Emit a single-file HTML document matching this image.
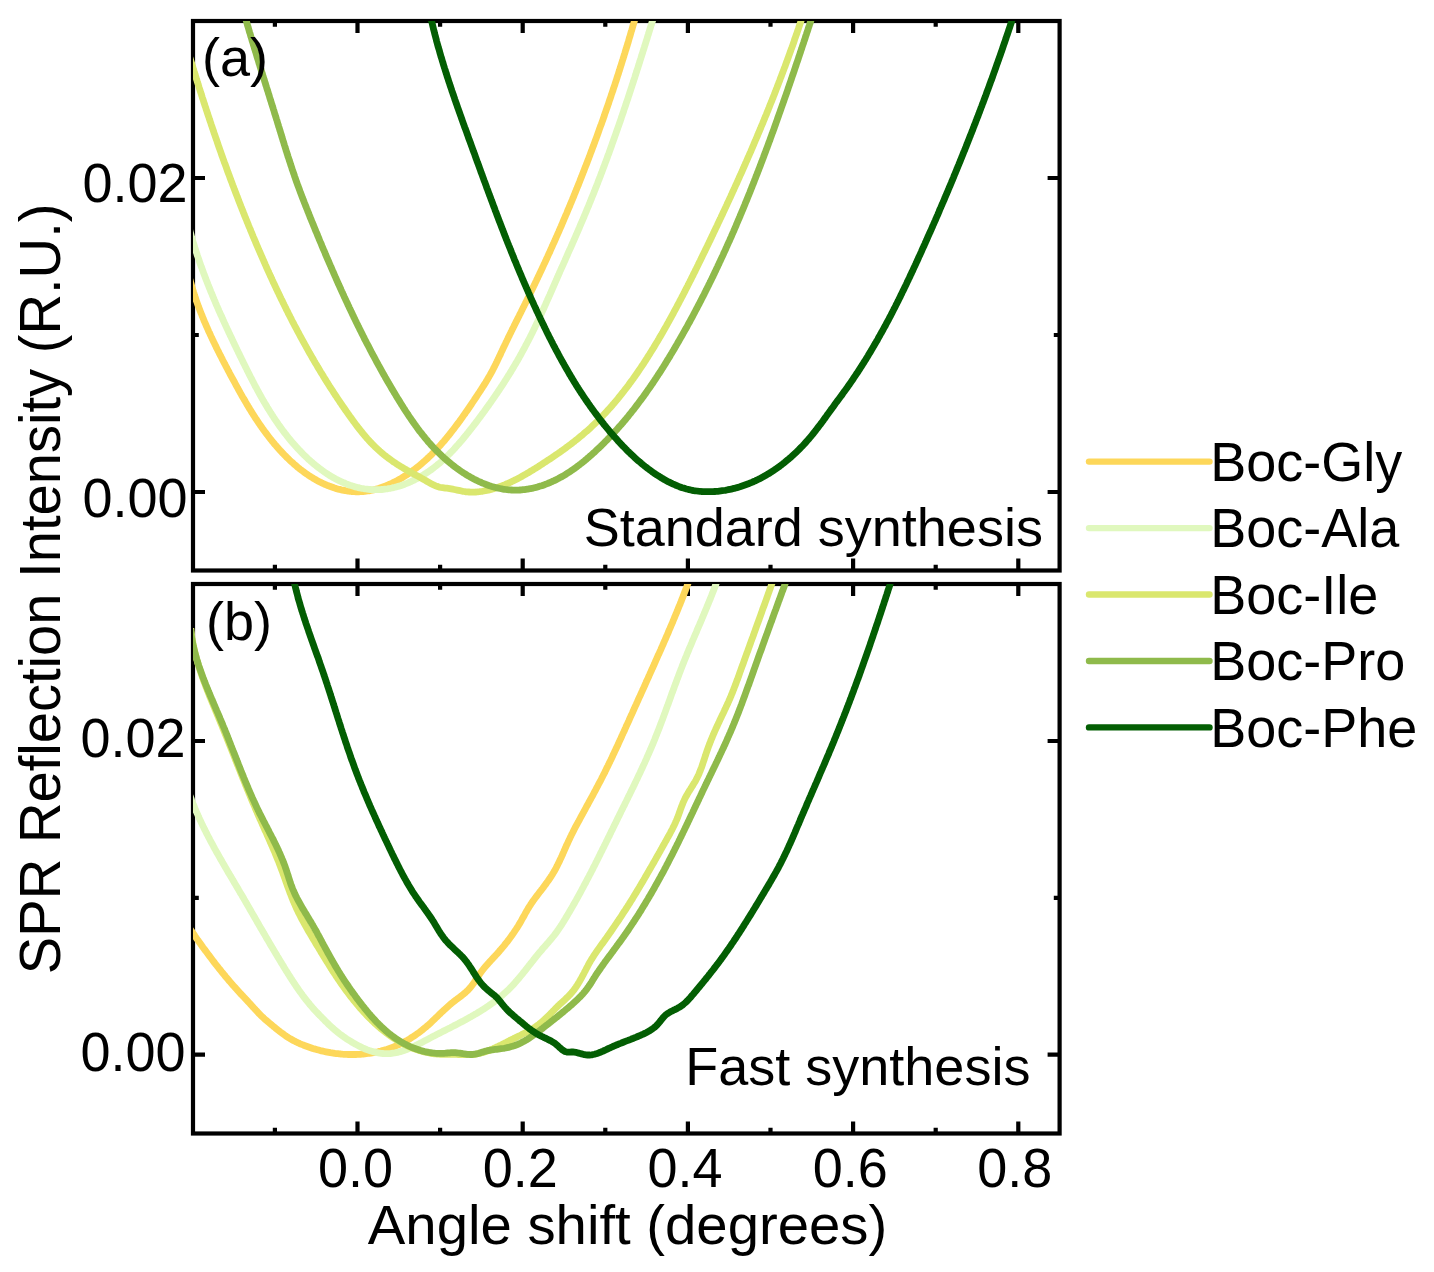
<!DOCTYPE html>
<html><head><meta charset="utf-8"><style>
html,body{margin:0;padding:0;background:#fff;}
svg{display:block;}
text{font-family:"Liberation Sans",sans-serif;fill:#000;}
</style></head><body>
<svg width="1434" height="1272" viewBox="0 0 1434 1272">
<rect width="1434" height="1272" fill="#fff"/>
<defs><clipPath id="ca"><rect x="193" y="21" width="866.5999999999999" height="549.5"/></clipPath><clipPath id="cb"><rect x="193" y="584" width="866.5999999999999" height="549.5"/></clipPath></defs><g fill="none" stroke="#000" stroke-width="4.2" stroke-linecap="square"><rect x="193" y="21" width="866.5999999999999" height="549.5"/><rect x="193" y="584" width="866.5999999999999" height="549.5"/></g><path fill="none" stroke="#000" stroke-width="4.2" d="M274.9 21v5.8M274.9 570.5v-5.8M357.5 21v12M357.5 570.5v-12M440.1 21v5.8M440.1 570.5v-5.8M522.7 21v12M522.7 570.5v-12M605.3 21v5.8M605.3 570.5v-5.8M687.9 21v12M687.9 570.5v-12M770.5 21v5.8M770.5 570.5v-5.8M853.1 21v12M853.1 570.5v-12M935.7 21v5.8M935.7 570.5v-5.8M1018.3 21v12M1018.3 570.5v-12M193 492.0h12M1059.6 492.0h-12M193 335.0h5.8M1059.6 335.0h-5.8M193 178.0h12M1059.6 178.0h-12M274.9 584v5.8M274.9 1133.5v-5.8M357.5 584v12M357.5 1133.5v-12M440.1 584v5.8M440.1 1133.5v-5.8M522.7 584v12M522.7 1133.5v-12M605.3 584v5.8M605.3 1133.5v-5.8M687.9 584v12M687.9 1133.5v-12M770.5 584v5.8M770.5 1133.5v-5.8M853.1 584v12M853.1 1133.5v-12M935.7 584v5.8M935.7 1133.5v-5.8M1018.3 584v12M1018.3 1133.5v-12M193 1054.7h12M1059.6 1054.7h-12M193 897.9h5.8M1059.6 897.9h-5.8M193 741.0h12M1059.6 741.0h-12"/><g clip-path="url(#ca)" fill="none" stroke-width="6.8" stroke-linejoin="round" stroke-linecap="butt"><path d="M189.9 279.5L190.3 280.9L190.7 282.4L191.1 283.8L191.5 285.2L191.9 286.6L192.3 288.1L192.7 289.5L193.2 290.9L193.6 292.3L194.1 293.7L194.5 295.1L195.0 296.6L195.5 298.0L195.9 299.4L196.4 300.8L196.9 302.2L197.4 303.6L197.9 305.0L198.4 306.4L199.0 307.8L199.5 309.2L200.0 310.6L200.6 312.0L201.1 313.4L201.7 314.7L202.2 316.1L202.8 317.5L203.4 318.9L203.9 320.3L204.5 321.7L205.1 323.0L205.7 324.4L206.3 325.8L206.9 327.2L207.5 328.5L208.1 329.9L208.7 331.3L209.3 332.6L210.0 334.0L210.6 335.4L211.2 336.7L211.9 338.1L212.5 339.5L213.2 340.8L213.8 342.2L214.5 343.5L215.1 344.9L215.8 346.2L216.4 347.6L217.1 348.9L217.8 350.3L218.5 351.6L219.1 353.0L219.8 354.3L220.5 355.7L221.2 357.0L221.9 358.3L222.5 359.7L223.2 361.0L223.9 362.3L224.6 363.7L225.3 365.0L226.0 366.3L226.7 367.7L227.4 369.0L228.1 370.3L228.8 371.6L229.5 373.0L230.2 374.3L230.9 375.6L231.6 376.9L232.3 378.3L233.1 379.6L233.8 380.9L234.5 382.2L235.2 383.5L235.9 384.8L236.6 386.1L237.3 387.4L238.1 388.8L238.8 390.1L239.5 391.4L240.2 392.7L241.0 394.0L241.7 395.3L242.4 396.6L243.2 397.8L243.9 399.1L244.7 400.4L245.4 401.7L246.2 403.0L246.9 404.3L247.7 405.5L248.4 406.8L249.2 408.1L250.0 409.4L250.8 410.6L251.5 411.9L252.3 413.2L253.1 414.4L253.9 415.7L254.7 416.9L255.5 418.2L256.4 419.4L257.2 420.7L258.0 421.9L258.8 423.1L259.7 424.4L260.5 425.6L261.4 426.8L262.2 428.0L263.1 429.2L264.0 430.5L264.9 431.7L265.8 432.9L266.7 434.1L267.6 435.3L268.5 436.5L269.4 437.7L270.3 438.8L271.3 440.0L272.2 441.2L273.2 442.4L274.1 443.5L275.1 444.7L276.1 445.8L277.1 447.0L278.1 448.1L279.1 449.3L280.1 450.4L281.2 451.5L282.2 452.6L283.2 453.7L284.3 454.8L285.4 455.9L286.4 457.0L287.5 458.1L288.6 459.1L289.7 460.2L290.8 461.2L291.9 462.2L293.1 463.2L294.2 464.3L295.3 465.2L296.5 466.2L297.6 467.2L298.8 468.1L300.0 469.1L301.2 470.0L302.4 470.9L303.6 471.8L304.8 472.7L306.0 473.6L307.3 474.4L308.5 475.3L309.8 476.1L311.0 476.9L312.3 477.7L313.6 478.5L314.9 479.2L316.2 480.0L317.5 480.7L318.8 481.4L320.1 482.1L321.4 482.7L322.8 483.4L324.1 484.0L325.5 484.6L326.9 485.2L328.3 485.7L329.7 486.3L331.1 486.8L332.5 487.3L333.9 487.8L335.3 488.2L336.7 488.7L338.2 489.1L339.6 489.4L341.1 489.8L342.6 490.1L344.0 490.4L345.5 490.7L347.0 490.9L348.4 491.2L349.9 491.3L351.4 491.5L352.9 491.6L354.4 491.7L355.9 491.8L357.3 491.8L358.8 491.8L360.3 491.7L361.8 491.7L363.3 491.5L364.7 491.4L366.2 491.2L367.7 491.0L369.1 490.8L370.6 490.5L372.1 490.2L373.5 489.9L375.0 489.5L376.4 489.1L377.8 488.7L379.3 488.3L380.7 487.8L382.1 487.3L383.5 486.8L384.9 486.3L386.3 485.7L387.7 485.1L389.1 484.5L390.5 483.9L391.9 483.3L393.2 482.6L394.6 481.9L395.9 481.2L397.3 480.5L398.6 479.8L399.9 479.1L401.2 478.3L402.5 477.5L403.8 476.7L405.0 475.9L406.3 475.1L407.5 474.3L408.8 473.5L410.0 472.6L411.2 471.8L412.4 470.9L413.6 470.0L414.8 469.1L416.0 468.2L417.2 467.3L418.4 466.4L419.5 465.4L420.7 464.5L421.8 463.5L422.9 462.5L424.0 461.5L425.2 460.6L426.3 459.6L427.4 458.5L428.4 457.5L429.5 456.5L430.6 455.4L431.7 454.4L432.7 453.3L433.8 452.3L434.8 451.2L435.8 450.1L436.9 449.0L437.9 447.9L438.9 446.8L439.9 445.7L440.9 444.6L441.9 443.4L442.9 442.3L443.9 441.2L444.9 440.0L445.8 438.9L446.8 437.7L447.7 436.5L448.7 435.4L449.6 434.2L450.6 433.0L451.5 431.8L452.4 430.6L453.4 429.4L454.3 428.2L455.2 427.0L456.1 425.8L457.0 424.6L457.9 423.4L458.8 422.2L459.7 421.0L460.6 419.7L461.5 418.5L462.4 417.3L463.2 416.0L464.1 414.8L465.0 413.6L465.8 412.3L466.7 411.1L467.6 409.9L468.4 408.6L469.3 407.4L470.1 406.1L471.0 404.9L471.8 403.6L472.6 402.4L473.5 401.1L474.3 399.9L475.1 398.6L476.0 397.4L476.8 396.1L477.6 394.9L478.4 393.7L479.3 392.4L480.1 391.2L480.9 389.9L481.7 388.7L482.5 387.4L483.3 386.2L484.1 384.9L484.9 383.6L485.7 382.4L486.4 381.1L487.2 379.8L487.9 378.6L488.7 377.3L489.4 376.0L490.2 374.7L490.9 373.4L491.6 372.1L492.3 370.8L493.0 369.5L493.7 368.2L494.3 366.9L495.0 365.5L495.7 364.2L496.3 362.8L497.0 361.5L497.6 360.2L498.2 358.8L498.9 357.5L499.5 356.1L500.2 354.8L500.8 353.4L501.4 352.0L502.1 350.7L502.7 349.3L503.3 348.0L504.0 346.6L504.6 345.3L505.3 343.9L505.9 342.6L506.6 341.2L507.2 339.9L507.9 338.5L508.5 337.2L509.2 335.9L509.8 334.5L510.5 333.2L511.1 331.8L511.8 330.5L512.5 329.1L513.1 327.8L513.8 326.5L514.5 325.1L515.1 323.8L515.8 322.4L516.5 321.1L517.1 319.8L517.8 318.4L518.5 317.1L519.2 315.7L519.8 314.4L520.5 313.1L521.2 311.7L521.8 310.4L522.5 309.0L523.2 307.7L523.8 306.4L524.5 305.0L525.2 303.7L525.8 302.3L526.5 301.0L527.2 299.7L527.8 298.3L528.5 297.0L529.1 295.6L529.8 294.3L530.5 292.9L531.1 291.6L531.8 290.2L532.4 288.9L533.1 287.5L533.7 286.2L534.4 284.8L535.0 283.5L535.7 282.1L536.3 280.8L536.9 279.4L537.6 278.1L538.2 276.7L538.9 275.4L539.5 274.0L540.1 272.7L540.8 271.3L541.4 270.0L542.1 268.6L542.7 267.2L543.3 265.9L543.9 264.5L544.6 263.2L545.2 261.8L545.8 260.5L546.5 259.1L547.1 257.7L547.7 256.4L548.3 255.0L548.9 253.6L549.6 252.3L550.2 250.9L550.8 249.5L551.4 248.2L552.0 246.8L552.6 245.5L553.2 244.1L553.9 242.7L554.5 241.3L555.1 240.0L555.7 238.6L556.3 237.2L556.9 235.9L557.5 234.5L558.1 233.1L558.7 231.8L559.3 230.4L559.9 229.0L560.5 227.6L561.1 226.3L561.7 224.9L562.3 223.5L562.9 222.1L563.4 220.8L564.0 219.4L564.6 218.0L565.2 216.6L565.8 215.2L566.4 213.9L567.0 212.5L567.5 211.1L568.1 209.7L568.7 208.3L569.3 207.0L569.9 205.6L570.4 204.2L571.0 202.8L571.6 201.4L572.2 200.0L572.7 198.7L573.3 197.3L573.9 195.9L574.4 194.5L575.0 193.1L575.6 191.7L576.1 190.3L576.7 188.9L577.2 187.6L577.8 186.2L578.4 184.8L578.9 183.4L579.5 182.0L580.0 180.6L580.6 179.2L581.1 177.8L581.7 176.4L582.2 175.0L582.8 173.6L583.3 172.2L583.9 170.8L584.4 169.4L584.9 168.0L585.5 166.6L586.0 165.3L586.6 163.9L587.1 162.5L587.6 161.1L588.2 159.7L588.7 158.3L589.2 156.9L589.8 155.5L590.3 154.0L590.8 152.6L591.4 151.2L591.9 149.8L592.4 148.4L592.9 147.0L593.5 145.6L594.0 144.2L594.5 142.8L595.0 141.4L595.5 140.0L596.1 138.6L596.6 137.2L597.1 135.8L597.6 134.4L598.1 133.0L598.6 131.6L599.1 130.1L599.6 128.7L600.1 127.3L600.6 125.9L601.2 124.5L601.7 123.1L602.2 121.7L602.7 120.3L603.2 118.8L603.7 117.4L604.2 116.0L604.6 114.6L605.1 113.2L605.6 111.8L606.1 110.3L606.6 108.9L607.1 107.5L607.6 106.1L608.1 104.7L608.6 103.3L609.0 101.8L609.5 100.4L610.0 99.0L610.5 97.6L611.0 96.2L611.4 94.7L611.9 93.3L612.4 91.9L612.9 90.5L613.3 89.0L613.8 87.6L614.3 86.2L614.8 84.8L615.2 83.3L615.7 81.9L616.2 80.5L616.6 79.1L617.1 77.6L617.5 76.2L618.0 74.8L618.5 73.4L618.9 71.9L619.4 70.5L619.8 69.1L620.3 67.6L620.7 66.2L621.2 64.8L621.6 63.3L622.1 61.9L622.5 60.5L623.0 59.0L623.4 57.6L623.9 56.2L624.3 54.7L624.8 53.3L625.2 51.9L625.6 50.4L626.1 49.0L626.5 47.6L627.0 46.1L627.4 44.7L627.8 43.3L628.3 41.8L628.7 40.4L629.1 38.9L629.5 37.5L630.0 36.1L630.4 34.6L630.8 33.2L631.2 31.7L631.7 30.3L632.1 28.9L632.5 27.4L632.9 26.0L633.3 24.5L633.8 23.1L634.2 21.6L634.6 20.2L635.0 18.7L635.4 17.3L635.8 15.9L636.2 14.4L636.6 13.0L637.0 11.5" stroke="#FDD75A" /><path d="M189.4 229.0L189.8 230.5L190.2 231.9L190.6 233.4L191.0 234.8L191.4 236.3L191.9 237.7L192.3 239.2L192.7 240.6L193.1 242.1L193.6 243.5L194.0 244.9L194.5 246.4L194.9 247.8L195.4 249.2L195.8 250.7L196.3 252.1L196.8 253.5L197.2 255.0L197.7 256.4L198.2 257.8L198.7 259.2L199.2 260.6L199.6 262.1L200.1 263.5L200.6 264.9L201.1 266.3L201.7 267.7L202.2 269.1L202.7 270.5L203.2 271.9L203.7 273.3L204.2 274.7L204.8 276.1L205.3 277.5L205.8 278.9L206.4 280.3L206.9 281.7L207.5 283.1L208.0 284.5L208.6 285.9L209.1 287.3L209.7 288.7L210.3 290.1L210.8 291.5L211.4 292.8L212.0 294.2L212.5 295.6L213.1 297.0L213.7 298.4L214.3 299.8L214.9 301.1L215.4 302.5L216.0 303.9L216.6 305.3L217.2 306.6L217.8 308.0L218.4 309.4L219.0 310.8L219.6 312.1L220.2 313.5L220.8 314.9L221.5 316.2L222.1 317.6L222.7 319.0L223.3 320.3L223.9 321.7L224.5 323.0L225.2 324.4L225.8 325.8L226.4 327.1L227.0 328.5L227.7 329.8L228.3 331.2L228.9 332.6L229.6 333.9L230.2 335.3L230.9 336.6L231.5 338.0L232.1 339.3L232.8 340.7L233.4 342.1L234.1 343.4L234.7 344.8L235.4 346.1L236.0 347.5L236.7 348.8L237.3 350.2L238.0 351.5L238.6 352.9L239.3 354.2L239.9 355.6L240.6 356.9L241.3 358.3L241.9 359.6L242.6 361.0L243.2 362.3L243.9 363.7L244.6 365.0L245.2 366.3L245.9 367.7L246.6 369.0L247.2 370.4L247.9 371.7L248.6 373.1L249.2 374.4L249.9 375.7L250.6 377.1L251.3 378.4L252.0 379.7L252.7 381.1L253.4 382.4L254.0 383.7L254.7 385.0L255.4 386.4L256.2 387.7L256.9 389.0L257.6 390.3L258.3 391.6L259.0 392.9L259.7 394.3L260.5 395.6L261.2 396.9L261.9 398.2L262.7 399.5L263.4 400.8L264.2 402.1L264.9 403.3L265.7 404.6L266.5 405.9L267.2 407.2L268.0 408.5L268.8 409.7L269.6 411.0L270.4 412.3L271.2 413.5L272.0 414.8L272.8 416.0L273.6 417.3L274.4 418.5L275.2 419.8L276.1 421.0L276.9 422.2L277.8 423.5L278.6 424.7L279.5 425.9L280.4 427.1L281.2 428.3L282.1 429.5L283.0 430.7L283.9 431.9L284.8 433.1L285.8 434.3L286.7 435.5L287.6 436.7L288.5 437.8L289.5 439.0L290.5 440.2L291.4 441.3L292.4 442.5L293.4 443.6L294.4 444.7L295.4 445.9L296.4 447.0L297.4 448.1L298.4 449.2L299.5 450.3L300.5 451.4L301.6 452.5L302.6 453.6L303.7 454.7L304.8 455.7L305.9 456.8L307.0 457.8L308.1 458.9L309.2 459.9L310.4 460.9L311.5 461.9L312.7 462.9L313.8 463.9L315.0 464.9L316.2 465.8L317.4 466.8L318.6 467.7L319.8 468.6L321.0 469.5L322.2 470.4L323.4 471.3L324.7 472.2L325.9 473.0L327.2 473.9L328.4 474.7L329.7 475.5L331.0 476.3L332.3 477.0L333.6 477.8L334.9 478.5L336.2 479.2L337.6 479.9L338.9 480.6L340.2 481.2L341.6 481.8L342.9 482.4L344.3 483.0L345.7 483.6L347.1 484.1L348.5 484.7L349.9 485.2L351.3 485.6L352.7 486.1L354.1 486.5L355.5 486.9L357.0 487.3L358.4 487.6L359.9 488.0L361.3 488.3L362.8 488.5L364.2 488.8L365.7 489.0L367.1 489.2L368.6 489.4L370.1 489.5L371.5 489.6L373.0 489.7L374.5 489.7L375.9 489.7L377.4 489.7L378.9 489.7L380.3 489.6L381.8 489.5L383.2 489.4L384.7 489.2L386.1 489.0L387.6 488.8L389.0 488.5L390.5 488.3L391.9 488.0L393.4 487.6L394.8 487.3L396.2 486.9L397.6 486.5L399.1 486.1L400.5 485.7L401.9 485.2L403.3 484.7L404.7 484.2L406.1 483.6L407.5 483.1L408.8 482.5L410.2 481.9L411.6 481.3L412.9 480.6L414.3 480.0L415.6 479.3L417.0 478.6L418.3 477.9L419.6 477.1L420.9 476.4L422.2 475.6L423.5 474.8L424.8 474.0L426.1 473.2L427.3 472.4L428.6 471.5L429.8 470.6L431.0 469.8L432.3 468.9L433.5 468.0L434.7 467.0L435.8 466.1L437.0 465.2L438.2 464.2L439.3 463.3L440.5 462.3L441.6 461.3L442.7 460.3L443.8 459.3L444.9 458.3L446.0 457.2L447.1 456.2L448.2 455.1L449.2 454.1L450.3 453.0L451.3 451.9L452.4 450.8L453.4 449.8L454.4 448.7L455.4 447.5L456.4 446.4L457.4 445.3L458.4 444.2L459.4 443.0L460.4 441.9L461.4 440.8L462.4 439.6L463.3 438.5L464.3 437.3L465.2 436.1L466.2 435.0L467.1 433.8L468.1 432.6L469.0 431.4L469.9 430.2L470.9 429.0L471.8 427.9L472.7 426.7L473.6 425.5L474.6 424.3L475.5 423.1L476.4 421.9L477.3 420.7L478.2 419.5L479.1 418.3L480.0 417.1L480.9 415.9L481.8 414.6L482.7 413.4L483.6 412.2L484.5 411.0L485.3 409.8L486.2 408.6L487.1 407.3L488.0 406.1L488.9 404.9L489.7 403.7L490.6 402.5L491.4 401.2L492.3 400.0L493.2 398.8L494.0 397.5L494.9 396.3L495.7 395.0L496.6 393.8L497.4 392.6L498.2 391.3L499.1 390.1L499.9 388.8L500.7 387.6L501.6 386.3L502.4 385.1L503.2 383.8L504.0 382.6L504.8 381.3L505.6 380.0L506.4 378.8L507.2 377.5L508.0 376.2L508.8 375.0L509.6 373.7L510.4 372.4L511.2 371.1L511.9 369.9L512.7 368.6L513.5 367.3L514.2 366.0L515.0 364.7L515.8 363.4L516.5 362.1L517.3 360.9L518.0 359.6L518.8 358.3L519.5 357.0L520.2 355.7L521.0 354.3L521.7 353.0L522.4 351.7L523.1 350.4L523.8 349.1L524.5 347.8L525.2 346.5L525.9 345.1L526.6 343.8L527.3 342.5L528.0 341.2L528.7 339.8L529.4 338.5L530.1 337.2L530.7 335.8L531.4 334.5L532.1 333.2L532.7 331.8L533.4 330.5L534.0 329.1L534.7 327.8L535.3 326.4L536.0 325.1L536.6 323.7L537.3 322.4L537.9 321.0L538.5 319.7L539.2 318.3L539.8 316.9L540.4 315.6L541.1 314.2L541.7 312.9L542.3 311.5L542.9 310.1L543.6 308.8L544.2 307.4L544.8 306.0L545.4 304.7L546.0 303.3L546.6 301.9L547.2 300.6L547.8 299.2L548.5 297.8L549.1 296.4L549.7 295.1L550.3 293.7L550.9 292.3L551.5 291.0L552.1 289.6L552.7 288.2L553.3 286.8L553.9 285.5L554.5 284.1L555.1 282.7L555.7 281.3L556.3 280.0L556.9 278.6L557.5 277.2L558.1 275.8L558.7 274.5L559.3 273.1L559.9 271.7L560.5 270.4L561.1 269.0L561.8 267.6L562.4 266.2L563.0 264.9L563.6 263.5L564.2 262.1L564.8 260.8L565.4 259.4L566.0 258.0L566.6 256.7L567.2 255.3L567.8 253.9L568.4 252.5L569.0 251.2L569.6 249.8L570.3 248.4L570.9 247.1L571.5 245.7L572.1 244.3L572.7 242.9L573.3 241.6L573.9 240.2L574.5 238.8L575.1 237.5L575.7 236.1L576.3 234.7L576.9 233.3L577.5 232.0L578.1 230.6L578.7 229.2L579.3 227.8L579.8 226.5L580.4 225.1L581.0 223.7L581.6 222.3L582.2 221.0L582.8 219.6L583.4 218.2L584.0 216.8L584.5 215.4L585.1 214.1L585.7 212.7L586.3 211.3L586.8 209.9L587.4 208.5L588.0 207.1L588.6 205.8L589.1 204.4L589.7 203.0L590.3 201.6L590.8 200.2L591.4 198.8L591.9 197.4L592.5 196.0L593.1 194.7L593.6 193.3L594.2 191.9L594.7 190.5L595.3 189.1L595.8 187.7L596.4 186.3L596.9 184.9L597.5 183.5L598.0 182.1L598.5 180.7L599.1 179.3L599.6 177.9L600.2 176.5L600.7 175.1L601.2 173.7L601.8 172.3L602.3 170.9L602.8 169.5L603.3 168.1L603.9 166.7L604.4 165.3L604.9 163.9L605.4 162.5L606.0 161.1L606.5 159.7L607.0 158.3L607.5 156.8L608.0 155.4L608.6 154.0L609.1 152.6L609.6 151.2L610.1 149.8L610.6 148.4L611.1 147.0L611.6 145.6L612.1 144.2L612.6 142.7L613.1 141.3L613.6 139.9L614.1 138.5L614.6 137.1L615.1 135.7L615.6 134.3L616.1 132.8L616.6 131.4L617.1 130.0L617.6 128.6L618.1 127.2L618.6 125.8L619.1 124.3L619.6 122.9L620.1 121.5L620.6 120.1L621.1 118.7L621.5 117.2L622.0 115.8L622.5 114.4L623.0 113.0L623.5 111.6L623.9 110.1L624.4 108.7L624.9 107.3L625.4 105.9L625.9 104.4L626.3 103.0L626.8 101.6L627.3 100.2L627.8 98.8L628.2 97.3L628.7 95.9L629.2 94.5L629.6 93.1L630.1 91.6L630.6 90.2L631.0 88.8L631.5 87.4L632.0 85.9L632.4 84.5L632.9 83.1L633.4 81.6L633.8 80.2L634.3 78.8L634.8 77.4L635.2 75.9L635.7 74.5L636.1 73.1L636.6 71.6L637.0 70.2L637.5 68.8L638.0 67.4L638.4 65.9L638.9 64.5L639.3 63.1L639.8 61.6L640.2 60.2L640.7 58.8L641.1 57.4L641.6 55.9L642.0 54.5L642.5 53.1L642.9 51.6L643.4 50.2L643.8 48.8L644.3 47.3L644.7 45.9L645.2 44.5L645.6 43.1L646.1 41.6L646.5 40.2L647.0 38.8L647.4 37.3L647.8 35.9L648.3 34.5L648.7 33.0L649.2 31.6L649.6 30.2L650.1 28.7L650.5 27.3L650.9 25.9L651.4 24.5L651.8 23.0L652.3 21.6L652.7 20.2L653.1 18.7L653.6 17.3L654.0 15.9L654.5 14.4L654.9 13.0L655.3 11.6" stroke="#E0F8BE" /><path d="M189.5 56.3L189.9 57.8L190.4 59.2L190.8 60.6L191.2 62.1L191.7 63.5L192.1 64.9L192.6 66.4L193.0 67.8L193.4 69.2L193.9 70.7L194.3 72.1L194.8 73.5L195.2 74.9L195.7 76.4L196.1 77.8L196.5 79.2L197.0 80.7L197.4 82.1L197.9 83.5L198.3 84.9L198.8 86.4L199.2 87.8L199.7 89.2L200.1 90.6L200.6 92.1L201.1 93.5L201.5 94.9L202.0 96.4L202.4 97.8L202.9 99.2L203.4 100.6L203.8 102.1L204.3 103.5L204.7 104.9L205.2 106.3L205.7 107.7L206.1 109.2L206.6 110.6L207.1 112.0L207.5 113.4L208.0 114.9L208.5 116.3L209.0 117.7L209.4 119.1L209.9 120.5L210.4 122.0L210.9 123.4L211.3 124.8L211.8 126.2L212.3 127.7L212.8 129.1L213.3 130.5L213.7 131.9L214.2 133.3L214.7 134.7L215.2 136.2L215.7 137.6L216.2 139.0L216.7 140.4L217.2 141.8L217.6 143.2L218.1 144.7L218.6 146.1L219.1 147.5L219.6 148.9L220.1 150.3L220.6 151.7L221.1 153.1L221.6 154.6L222.1 156.0L222.6 157.4L223.1 158.8L223.6 160.2L224.1 161.6L224.6 163.0L225.2 164.4L225.7 165.8L226.2 167.2L226.7 168.7L227.2 170.1L227.7 171.5L228.2 172.9L228.8 174.3L229.3 175.7L229.8 177.1L230.3 178.5L230.8 179.9L231.4 181.3L231.9 182.7L232.4 184.1L232.9 185.5L233.5 186.9L234.0 188.3L234.5 189.7L235.1 191.1L235.6 192.5L236.1 193.9L236.7 195.3L237.2 196.7L237.8 198.1L238.3 199.5L238.8 200.9L239.4 202.3L239.9 203.7L240.5 205.1L241.0 206.5L241.6 207.9L242.1 209.3L242.7 210.7L243.2 212.1L243.8 213.5L244.3 214.9L244.9 216.3L245.4 217.6L246.0 219.0L246.6 220.4L247.1 221.8L247.7 223.2L248.3 224.6L248.8 226.0L249.4 227.4L250.0 228.7L250.5 230.1L251.1 231.5L251.7 232.9L252.3 234.3L252.8 235.7L253.4 237.1L254.0 238.4L254.6 239.8L255.2 241.2L255.7 242.6L256.3 244.0L256.9 245.3L257.5 246.7L258.1 248.1L258.7 249.5L259.3 250.8L259.9 252.2L260.5 253.6L261.1 255.0L261.7 256.3L262.3 257.7L262.9 259.1L263.5 260.4L264.1 261.8L264.7 263.2L265.3 264.6L265.9 265.9L266.5 267.3L267.1 268.7L267.7 270.0L268.4 271.4L269.0 272.8L269.6 274.1L270.2 275.5L270.8 276.8L271.5 278.2L272.1 279.6L272.7 280.9L273.3 282.3L274.0 283.6L274.6 285.0L275.2 286.3L275.9 287.7L276.5 289.1L277.2 290.4L277.8 291.8L278.5 293.1L279.1 294.5L279.7 295.8L280.4 297.2L281.0 298.5L281.7 299.9L282.4 301.2L283.0 302.6L283.7 303.9L284.3 305.2L285.0 306.6L285.7 307.9L286.3 309.3L287.0 310.6L287.7 311.9L288.3 313.3L289.0 314.6L289.7 315.9L290.4 317.3L291.1 318.6L291.7 319.9L292.4 321.3L293.1 322.6L293.8 323.9L294.5 325.3L295.2 326.6L295.9 327.9L296.6 329.2L297.3 330.6L298.0 331.9L298.7 333.2L299.4 334.5L300.1 335.8L300.8 337.2L301.5 338.5L302.3 339.8L303.0 341.1L303.7 342.4L304.4 343.7L305.1 345.0L305.9 346.3L306.6 347.7L307.3 349.0L308.1 350.3L308.8 351.6L309.5 352.9L310.3 354.2L311.0 355.5L311.8 356.8L312.5 358.1L313.3 359.4L314.0 360.7L314.8 362.0L315.5 363.2L316.3 364.5L317.1 365.8L317.8 367.1L318.6 368.4L319.4 369.7L320.1 371.0L320.9 372.3L321.7 373.5L322.5 374.8L323.3 376.1L324.0 377.4L324.8 378.6L325.6 379.9L326.4 381.2L327.2 382.5L328.0 383.7L328.8 385.0L329.6 386.3L330.4 387.5L331.2 388.8L332.1 390.0L332.9 391.3L333.7 392.6L334.5 393.8L335.3 395.1L336.2 396.3L337.0 397.6L337.8 398.8L338.7 400.1L339.5 401.3L340.3 402.6L341.2 403.8L342.0 405.1L342.9 406.3L343.7 407.5L344.6 408.8L345.4 410.0L346.3 411.3L347.2 412.5L348.0 413.7L348.9 414.9L349.8 416.2L350.7 417.4L351.5 418.6L352.4 419.8L353.3 421.1L354.2 422.3L355.1 423.5L356.0 424.7L356.9 425.9L357.8 427.1L358.7 428.3L359.7 429.5L360.6 430.6L361.5 431.8L362.5 433.0L363.4 434.1L364.4 435.3L365.3 436.4L366.3 437.5L367.3 438.7L368.3 439.8L369.3 440.9L370.3 442.0L371.3 443.0L372.4 444.1L373.4 445.2L374.4 446.2L375.5 447.3L376.6 448.3L377.7 449.3L378.8 450.3L379.9 451.3L381.0 452.2L382.1 453.2L383.2 454.1L384.4 455.1L385.6 456.0L386.7 456.9L387.9 457.8L389.1 458.7L390.3 459.5L391.5 460.4L392.7 461.3L393.9 462.1L395.2 462.9L396.4 463.8L397.7 464.6L398.9 465.4L400.2 466.2L401.4 466.9L402.7 467.7L404.0 468.5L405.3 469.2L406.6 470.0L407.9 470.7L409.2 471.5L410.5 472.2L411.8 472.9L413.2 473.7L414.5 474.4L415.8 475.1L417.2 475.8L418.5 476.5L419.8 477.2L421.1 478.0L422.4 478.7L423.8 479.5L425.1 480.2L426.4 481.0L427.7 481.8L429.0 482.5L430.3 483.2L431.6 483.9L432.9 484.6L434.2 485.2L435.6 485.8L436.9 486.3L438.3 486.8L439.6 487.2L441.0 487.5L442.5 487.7L443.9 487.9L445.4 488.1L446.8 488.2L448.3 488.4L449.7 488.6L451.2 488.9L452.7 489.2L454.2 489.5L455.6 489.8L457.1 490.1L458.6 490.4L460.1 490.7L461.5 491.0L463.0 491.3L464.5 491.5L466.0 491.8L467.5 491.9L469.0 492.0L470.5 492.1L472.0 492.1L473.4 492.1L474.9 492.1L476.4 492.0L477.9 491.8L479.4 491.7L480.9 491.5L482.4 491.3L483.8 491.0L485.3 490.7L486.8 490.4L488.2 490.1L489.7 489.8L491.1 489.4L492.5 489.0L494.0 488.6L495.4 488.1L496.8 487.7L498.2 487.2L499.6 486.7L501.0 486.2L502.4 485.7L503.8 485.1L505.1 484.6L506.5 484.0L507.9 483.4L509.2 482.8L510.6 482.2L511.9 481.5L513.2 480.9L514.6 480.2L515.9 479.6L517.2 478.9L518.5 478.2L519.9 477.5L521.2 476.8L522.5 476.0L523.8 475.3L525.1 474.6L526.4 473.8L527.7 473.1L528.9 472.3L530.2 471.5L531.5 470.7L532.8 470.0L534.1 469.2L535.4 468.4L536.6 467.6L537.9 466.8L539.2 466.0L540.4 465.1L541.7 464.3L543.0 463.5L544.2 462.7L545.5 461.9L546.8 461.0L548.0 460.2L549.3 459.4L550.5 458.6L551.8 457.7L553.0 456.9L554.3 456.0L555.5 455.2L556.8 454.3L558.0 453.5L559.2 452.6L560.5 451.7L561.7 450.8L562.9 450.0L564.2 449.1L565.4 448.2L566.6 447.3L567.8 446.4L569.0 445.5L570.2 444.6L571.4 443.7L572.6 442.8L573.8 441.9L574.9 440.9L576.1 440.0L577.3 439.1L578.5 438.1L579.6 437.2L580.8 436.2L581.9 435.3L583.1 434.3L584.2 433.3L585.3 432.3L586.5 431.4L587.6 430.4L588.7 429.4L589.8 428.4L590.9 427.4L592.0 426.3L593.1 425.3L594.2 424.3L595.3 423.3L596.3 422.2L597.4 421.2L598.4 420.1L599.5 419.1L600.5 418.0L601.6 416.9L602.6 415.9L603.6 414.8L604.7 413.7L605.7 412.6L606.7 411.5L607.7 410.4L608.7 409.3L609.7 408.2L610.7 407.1L611.7 406.0L612.7 404.8L613.6 403.7L614.6 402.6L615.6 401.4L616.5 400.3L617.5 399.2L618.4 398.0L619.4 396.8L620.3 395.7L621.2 394.5L622.2 393.3L623.1 392.2L624.0 391.0L624.9 389.8L625.8 388.6L626.8 387.4L627.7 386.2L628.6 385.0L629.4 383.8L630.3 382.6L631.2 381.4L632.1 380.2L633.0 379.0L633.8 377.8L634.7 376.6L635.6 375.3L636.4 374.1L637.3 372.9L638.1 371.6L639.0 370.4L639.8 369.2L640.7 367.9L641.5 366.7L642.3 365.4L643.2 364.2L644.0 362.9L644.8 361.7L645.6 360.4L646.4 359.1L647.2 357.9L648.0 356.6L648.8 355.3L649.6 354.1L650.4 352.8L651.2 351.5L652.0 350.2L652.8 349.0L653.6 347.7L654.4 346.4L655.1 345.1L655.9 343.8L656.7 342.5L657.5 341.2L658.2 340.0L659.0 338.7L659.7 337.4L660.5 336.1L661.3 334.8L662.0 333.5L662.8 332.2L663.5 330.9L664.2 329.6L665.0 328.3L665.7 327.0L666.5 325.7L667.2 324.4L667.9 323.0L668.7 321.7L669.4 320.4L670.1 319.1L670.8 317.8L671.6 316.5L672.3 315.2L673.0 313.9L673.7 312.5L674.4 311.2L675.1 309.9L675.8 308.6L676.5 307.3L677.2 305.9L677.9 304.6L678.6 303.3L679.3 302.0L680.0 300.6L680.7 299.3L681.4 298.0L682.1 296.6L682.8 295.3L683.5 294.0L684.2 292.7L684.9 291.3L685.5 290.0L686.2 288.7L686.9 287.3L687.6 286.0L688.3 284.6L688.9 283.3L689.6 282.0L690.3 280.6L691.0 279.3L691.6 278.0L692.3 276.6L693.0 275.3L693.6 273.9L694.3 272.6L695.0 271.3L695.6 269.9L696.3 268.6L697.0 267.2L697.6 265.9L698.3 264.5L698.9 263.2L699.6 261.8L700.3 260.5L700.9 259.2L701.6 257.8L702.2 256.5L702.9 255.1L703.5 253.8L704.2 252.4L704.9 251.1L705.5 249.7L706.2 248.4L706.8 247.0L707.5 245.7L708.1 244.3L708.8 243.0L709.4 241.6L710.1 240.3L710.7 238.9L711.4 237.6L712.0 236.2L712.7 234.9L713.3 233.5L713.9 232.2L714.6 230.8L715.2 229.5L715.9 228.1L716.5 226.8L717.2 225.4L717.8 224.0L718.4 222.7L719.1 221.3L719.7 220.0L720.4 218.6L721.0 217.3L721.6 215.9L722.3 214.6L722.9 213.2L723.5 211.8L724.2 210.5L724.8 209.1L725.4 207.8L726.1 206.4L726.7 205.1L727.3 203.7L727.9 202.3L728.6 201.0L729.2 199.6L729.8 198.3L730.5 196.9L731.1 195.5L731.7 194.2L732.3 192.8L732.9 191.4L733.6 190.1L734.2 188.7L734.8 187.4L735.4 186.0L736.0 184.6L736.7 183.3L737.3 181.9L737.9 180.5L738.5 179.2L739.1 177.8L739.7 176.4L740.3 175.1L741.0 173.7L741.6 172.3L742.2 171.0L742.8 169.6L743.4 168.2L744.0 166.8L744.6 165.5L745.2 164.1L745.8 162.7L746.4 161.4L747.0 160.0L747.6 158.6L748.2 157.2L748.8 155.9L749.4 154.5L750.0 153.1L750.6 151.8L751.2 150.4L751.8 149.0L752.4 147.6L753.0 146.2L753.6 144.9L754.1 143.5L754.7 142.1L755.3 140.7L755.9 139.4L756.5 138.0L757.1 136.6L757.7 135.2L758.2 133.8L758.8 132.5L759.4 131.1L760.0 129.7L760.6 128.3L761.1 126.9L761.7 125.5L762.3 124.2L762.9 122.8L763.4 121.4L764.0 120.0L764.6 118.6L765.1 117.2L765.7 115.8L766.3 114.5L766.8 113.1L767.4 111.7L768.0 110.3L768.5 108.9L769.1 107.5L769.6 106.1L770.2 104.7L770.7 103.3L771.3 102.0L771.9 100.6L772.4 99.2L773.0 97.8L773.5 96.4L774.1 95.0L774.6 93.6L775.2 92.2L775.7 90.8L776.2 89.4L776.8 88.0L777.3 86.6L777.9 85.2L778.4 83.8L778.9 82.4L779.5 81.0L780.0 79.6L780.5 78.2L781.1 76.8L781.6 75.4L782.1 74.0L782.7 72.6L783.2 71.2L783.7 69.8L784.2 68.4L784.8 67.0L785.3 65.6L785.8 64.2L786.3 62.8L786.9 61.3L787.4 59.9L787.9 58.5L788.4 57.1L788.9 55.7L789.4 54.3L789.9 52.9L790.4 51.5L790.9 50.1L791.4 48.7L792.0 47.2L792.5 45.8L793.0 44.4L793.5 43.0L794.0 41.6L794.4 40.2L794.9 38.7L795.4 37.3L795.9 35.9L796.4 34.5L796.9 33.1L797.4 31.6L797.9 30.2L798.4 28.8L798.8 27.4L799.3 26.0L799.8 24.5L800.3 23.1L800.8 21.7L801.2 20.3L801.7 18.8L802.2 17.4L802.7 16.0L803.1 14.6L803.6 13.1L804.1 11.7" stroke="#DAE76E" /><path d="M243.2 10.4L243.7 11.8L244.1 13.3L244.5 14.7L244.9 16.1L245.3 17.6L245.7 19.0L246.2 20.5L246.6 21.9L247.0 23.3L247.4 24.8L247.8 26.2L248.3 27.7L248.7 29.1L249.1 30.5L249.5 32.0L250.0 33.4L250.4 34.8L250.8 36.3L251.3 37.7L251.7 39.1L252.1 40.6L252.6 42.0L253.0 43.4L253.4 44.9L253.9 46.3L254.3 47.7L254.7 49.2L255.2 50.6L255.6 52.0L256.1 53.5L256.5 54.9L256.9 56.3L257.4 57.8L257.8 59.2L258.3 60.6L258.7 62.1L259.1 63.5L259.6 64.9L260.0 66.4L260.5 67.8L260.9 69.2L261.4 70.7L261.8 72.1L262.3 73.5L262.7 75.0L263.1 76.4L263.6 77.8L264.0 79.2L264.5 80.7L264.9 82.1L265.4 83.5L265.8 85.0L266.3 86.4L266.7 87.8L267.2 89.3L267.6 90.7L268.1 92.1L268.5 93.6L269.0 95.0L269.4 96.4L269.8 97.8L270.3 99.3L270.7 100.7L271.2 102.1L271.6 103.6L272.1 105.0L272.5 106.4L273.0 107.9L273.4 109.3L273.9 110.7L274.3 112.1L274.7 113.6L275.2 115.0L275.6 116.4L276.1 117.9L276.5 119.3L277.0 120.7L277.4 122.2L277.8 123.6L278.3 125.0L278.7 126.5L279.2 127.9L279.6 129.3L280.0 130.7L280.5 132.2L280.9 133.6L281.4 135.0L281.8 136.5L282.2 137.9L282.7 139.3L283.1 140.8L283.6 142.2L284.0 143.6L284.4 145.0L284.9 146.5L285.3 147.9L285.8 149.3L286.2 150.8L286.7 152.2L287.1 153.6L287.6 155.0L288.0 156.5L288.5 157.9L289.0 159.3L289.4 160.7L289.9 162.2L290.4 163.6L290.8 165.0L291.3 166.4L291.8 167.8L292.2 169.3L292.7 170.7L293.2 172.1L293.7 173.5L294.2 174.9L294.6 176.3L295.1 177.7L295.6 179.2L296.1 180.6L296.6 182.0L297.1 183.4L297.6 184.8L298.1 186.2L298.7 187.6L299.2 189.0L299.7 190.4L300.2 191.8L300.7 193.2L301.3 194.6L301.8 196.0L302.3 197.4L302.9 198.8L303.4 200.2L304.0 201.6L304.5 203.0L305.1 204.4L305.6 205.8L306.2 207.2L306.7 208.5L307.3 209.9L307.8 211.3L308.4 212.7L308.9 214.1L309.5 215.5L310.0 216.9L310.6 218.3L311.2 219.7L311.7 221.1L312.3 222.4L312.9 223.8L313.4 225.2L314.0 226.6L314.6 228.0L315.1 229.4L315.7 230.8L316.3 232.2L316.9 233.5L317.4 234.9L318.0 236.3L318.6 237.7L319.1 239.1L319.7 240.5L320.3 241.9L320.9 243.2L321.5 244.6L322.0 246.0L322.6 247.4L323.2 248.8L323.8 250.2L324.4 251.5L325.0 252.9L325.5 254.3L326.1 255.7L326.7 257.1L327.3 258.5L327.9 259.8L328.5 261.2L329.1 262.6L329.7 264.0L330.3 265.4L330.9 266.7L331.5 268.1L332.1 269.5L332.7 270.9L333.3 272.2L333.9 273.6L334.5 275.0L335.1 276.4L335.7 277.7L336.3 279.1L336.9 280.5L337.5 281.8L338.1 283.2L338.7 284.6L339.4 286.0L340.0 287.3L340.6 288.7L341.2 290.1L341.8 291.4L342.5 292.8L343.1 294.2L343.7 295.5L344.3 296.9L345.0 298.3L345.6 299.6L346.2 301.0L346.9 302.3L347.5 303.7L348.1 305.1L348.8 306.4L349.4 307.8L350.0 309.1L350.7 310.5L351.3 311.8L352.0 313.2L352.6 314.6L353.3 315.9L353.9 317.3L354.6 318.6L355.2 320.0L355.9 321.3L356.5 322.7L357.2 324.0L357.8 325.3L358.5 326.7L359.2 328.0L359.8 329.4L360.5 330.7L361.2 332.1L361.8 333.4L362.5 334.7L363.2 336.1L363.9 337.4L364.5 338.8L365.2 340.1L365.9 341.4L366.6 342.8L367.3 344.1L368.0 345.4L368.7 346.7L369.4 348.1L370.0 349.4L370.7 350.7L371.4 352.0L372.1 353.4L372.8 354.7L373.5 356.0L374.3 357.3L375.0 358.7L375.7 360.0L376.4 361.3L377.1 362.6L377.8 363.9L378.5 365.2L379.3 366.5L380.0 367.8L380.7 369.2L381.4 370.5L382.2 371.8L382.9 373.1L383.6 374.4L384.4 375.7L385.1 377.0L385.8 378.3L386.6 379.6L387.3 380.9L388.1 382.2L388.8 383.4L389.6 384.7L390.3 386.0L391.1 387.3L391.8 388.6L392.6 389.9L393.4 391.2L394.1 392.5L394.9 393.7L395.7 395.0L396.4 396.3L397.2 397.6L398.0 398.8L398.8 400.1L399.6 401.4L400.4 402.7L401.1 403.9L401.9 405.2L402.7 406.4L403.5 407.7L404.3 409.0L405.1 410.2L405.9 411.5L406.8 412.7L407.6 414.0L408.4 415.2L409.2 416.5L410.1 417.7L410.9 418.9L411.8 420.2L412.6 421.4L413.5 422.6L414.3 423.8L415.2 425.0L416.1 426.3L417.0 427.5L417.8 428.7L418.7 429.9L419.6 431.1L420.6 432.2L421.5 433.4L422.4 434.6L423.3 435.8L424.3 436.9L425.2 438.1L426.2 439.3L427.2 440.4L428.1 441.6L429.1 442.7L430.1 443.8L431.1 445.0L432.2 446.1L433.2 447.2L434.2 448.3L435.3 449.4L436.3 450.5L437.4 451.6L438.5 452.6L439.6 453.7L440.7 454.8L441.8 455.8L442.9 456.9L444.1 457.9L445.2 458.9L446.4 459.9L447.5 460.9L448.7 461.9L449.9 462.9L451.1 463.9L452.3 464.8L453.5 465.8L454.7 466.7L455.9 467.6L457.1 468.5L458.4 469.4L459.6 470.3L460.9 471.2L462.1 472.0L463.4 472.9L464.7 473.7L466.0 474.5L467.3 475.3L468.6 476.1L469.9 476.8L471.2 477.6L472.5 478.3L473.8 479.0L475.2 479.7L476.5 480.3L477.9 481.0L479.2 481.6L480.6 482.2L481.9 482.8L483.3 483.4L484.7 483.9L486.0 484.5L487.4 485.0L488.8 485.5L490.2 485.9L491.6 486.4L493.0 486.8L494.4 487.2L495.8 487.6L497.2 487.9L498.6 488.2L500.0 488.5L501.4 488.8L502.9 489.1L504.3 489.3L505.7 489.5L507.2 489.7L508.6 489.8L510.0 489.9L511.5 490.0L512.9 490.1L514.3 490.1L515.8 490.1L517.2 490.1L518.7 490.1L520.1 490.0L521.6 489.9L523.0 489.7L524.5 489.6L525.9 489.4L527.4 489.2L528.8 488.9L530.3 488.7L531.7 488.4L533.2 488.1L534.6 487.7L536.0 487.4L537.5 487.0L538.9 486.5L540.3 486.1L541.8 485.7L543.2 485.2L544.6 484.7L546.0 484.1L547.4 483.6L548.8 483.0L550.2 482.5L551.6 481.8L552.9 481.2L554.3 480.6L555.7 479.9L557.0 479.2L558.4 478.5L559.7 477.8L561.0 477.1L562.4 476.4L563.7 475.6L565.0 474.8L566.3 474.0L567.5 473.2L568.8 472.4L570.1 471.6L571.3 470.7L572.6 469.9L573.8 469.0L575.1 468.1L576.3 467.2L577.5 466.3L578.7 465.4L579.9 464.5L581.1 463.5L582.3 462.6L583.5 461.6L584.7 460.7L585.9 459.7L587.0 458.7L588.2 457.7L589.3 456.7L590.5 455.7L591.6 454.7L592.7 453.7L593.9 452.7L595.0 451.7L596.1 450.6L597.2 449.6L598.3 448.6L599.4 447.5L600.5 446.5L601.6 445.4L602.6 444.4L603.7 443.3L604.8 442.2L605.8 441.2L606.9 440.1L607.9 439.0L609.0 437.9L610.0 436.9L611.1 435.8L612.1 434.7L613.1 433.6L614.1 432.5L615.1 431.4L616.1 430.3L617.2 429.2L618.1 428.0L619.1 426.9L620.1 425.8L621.1 424.7L622.1 423.5L623.1 422.4L624.0 421.2L625.0 420.1L626.0 419.0L626.9 417.8L627.9 416.7L628.8 415.5L629.7 414.3L630.7 413.2L631.6 412.0L632.5 410.8L633.5 409.7L634.4 408.5L635.3 407.3L636.2 406.1L637.1 404.9L638.0 403.7L638.9 402.5L639.8 401.3L640.7 400.1L641.6 398.9L642.5 397.7L643.4 396.5L644.2 395.3L645.1 394.1L646.0 392.9L646.8 391.7L647.7 390.4L648.5 389.2L649.4 388.0L650.2 386.8L651.1 385.5L651.9 384.3L652.8 383.1L653.6 381.8L654.4 380.6L655.3 379.3L656.1 378.1L656.9 376.8L657.7 375.6L658.5 374.3L659.4 373.1L660.2 371.8L661.0 370.6L661.8 369.3L662.6 368.0L663.4 366.8L664.2 365.5L665.0 364.2L665.8 363.0L666.5 361.7L667.3 360.4L668.1 359.1L668.9 357.9L669.7 356.6L670.4 355.3L671.2 354.0L672.0 352.7L672.7 351.5L673.5 350.2L674.3 348.9L675.0 347.6L675.8 346.3L676.5 345.0L677.3 343.7L678.0 342.4L678.8 341.1L679.5 339.8L680.3 338.5L681.0 337.2L681.8 335.9L682.5 334.6L683.2 333.3L684.0 332.0L684.7 330.7L685.4 329.4L686.2 328.1L686.9 326.8L687.6 325.5L688.3 324.2L689.0 322.9L689.8 321.6L690.5 320.2L691.2 318.9L691.9 317.6L692.6 316.3L693.3 315.0L694.0 313.7L694.7 312.3L695.4 311.0L696.1 309.7L696.8 308.4L697.5 307.0L698.2 305.7L698.9 304.4L699.6 303.0L700.3 301.7L701.0 300.4L701.6 299.1L702.3 297.7L703.0 296.4L703.7 295.1L704.4 293.7L705.0 292.4L705.7 291.0L706.4 289.7L707.0 288.4L707.7 287.0L708.4 285.7L709.0 284.3L709.7 283.0L710.4 281.6L711.0 280.3L711.7 279.0L712.3 277.6L713.0 276.3L713.6 274.9L714.3 273.6L714.9 272.2L715.6 270.9L716.2 269.5L716.9 268.1L717.5 266.8L718.1 265.4L718.8 264.1L719.4 262.7L720.0 261.4L720.7 260.0L721.3 258.6L721.9 257.3L722.6 255.9L723.2 254.6L723.8 253.2L724.4 251.8L725.1 250.5L725.7 249.1L726.3 247.7L726.9 246.4L727.5 245.0L728.1 243.6L728.7 242.3L729.4 240.9L730.0 239.5L730.6 238.1L731.2 236.8L731.8 235.4L732.4 234.0L733.0 232.6L733.6 231.3L734.2 229.9L734.8 228.5L735.4 227.1L736.0 225.8L736.5 224.4L737.1 223.0L737.7 221.6L738.3 220.2L738.9 218.8L739.5 217.5L740.1 216.1L740.6 214.7L741.2 213.3L741.8 211.9L742.4 210.5L743.0 209.2L743.5 207.8L744.1 206.4L744.7 205.0L745.2 203.6L745.8 202.2L746.4 200.8L747.0 199.4L747.5 198.0L748.1 196.6L748.6 195.3L749.2 193.9L749.8 192.5L750.3 191.1L750.9 189.7L751.4 188.3L752.0 186.9L752.5 185.5L753.1 184.1L753.7 182.7L754.2 181.3L754.7 179.9L755.3 178.5L755.8 177.1L756.4 175.7L756.9 174.3L757.5 172.9L758.0 171.5L758.6 170.1L759.1 168.7L759.6 167.3L760.2 165.9L760.7 164.5L761.2 163.1L761.8 161.7L762.3 160.3L762.8 158.9L763.4 157.4L763.9 156.0L764.4 154.6L765.0 153.2L765.5 151.8L766.0 150.4L766.5 149.0L767.1 147.6L767.6 146.2L768.1 144.8L768.6 143.4L769.1 142.0L769.7 140.6L770.2 139.1L770.7 137.7L771.2 136.3L771.7 134.9L772.2 133.5L772.8 132.1L773.3 130.7L773.8 129.3L774.3 127.8L774.8 126.4L775.3 125.0L775.8 123.6L776.3 122.2L776.8 120.8L777.3 119.4L777.8 117.9L778.3 116.5L778.8 115.1L779.3 113.7L779.8 112.3L780.3 110.9L780.8 109.5L781.3 108.0L781.8 106.6L782.3 105.2L782.8 103.8L783.3 102.4L783.8 101.0L784.3 99.5L784.8 98.1L785.3 96.7L785.8 95.3L786.3 93.9L786.8 92.5L787.3 91.0L787.8 89.6L788.2 88.2L788.7 86.8L789.2 85.4L789.7 84.0L790.2 82.5L790.7 81.1L791.2 79.7L791.6 78.3L792.1 76.9L792.6 75.4L793.1 74.0L793.6 72.6L794.1 71.2L794.5 69.8L795.0 68.4L795.5 66.9L796.0 65.5L796.4 64.1L796.9 62.7L797.4 61.3L797.9 59.8L798.4 58.4L798.8 57.0L799.3 55.6L799.8 54.2L800.3 52.7L800.7 51.3L801.2 49.9L801.7 48.5L802.1 47.1L802.6 45.7L803.1 44.2L803.6 42.8L804.0 41.4L804.5 40.0L805.0 38.6L805.4 37.2L805.9 35.7L806.4 34.3L806.8 32.9L807.3 31.5L807.8 30.1L808.2 28.7L808.7 27.2L809.2 25.8L809.6 24.4L810.1 23.0L810.6 21.6L811.0 20.2L811.5 18.8L812.0 17.3L812.4 15.9L812.9 14.5L813.4 13.1L813.8 11.7" stroke="#8FBA4B" /><path d="M429.1 10.0L429.4 11.4L429.8 12.9L430.1 14.4L430.4 15.9L430.7 17.3L431.1 18.8L431.4 20.3L431.8 21.7L432.1 23.2L432.5 24.7L432.8 26.1L433.2 27.6L433.5 29.1L433.9 30.5L434.3 32.0L434.6 33.4L435.0 34.9L435.4 36.3L435.8 37.8L436.2 39.2L436.5 40.7L436.9 42.1L437.3 43.6L437.7 45.0L438.1 46.5L438.5 47.9L439.0 49.4L439.4 50.8L439.8 52.3L440.2 53.7L440.6 55.1L441.0 56.6L441.5 58.0L441.9 59.4L442.3 60.9L442.8 62.3L443.2 63.7L443.6 65.2L444.1 66.6L444.5 68.0L445.0 69.5L445.4 70.9L445.9 72.3L446.3 73.7L446.8 75.2L447.2 76.6L447.7 78.0L448.2 79.4L448.6 80.9L449.1 82.3L449.6 83.7L450.0 85.1L450.5 86.5L451.0 88.0L451.5 89.4L451.9 90.8L452.4 92.2L452.9 93.6L453.4 95.0L453.9 96.5L454.4 97.9L454.8 99.3L455.3 100.7L455.8 102.1L456.3 103.5L456.8 104.9L457.3 106.4L457.8 107.8L458.3 109.2L458.8 110.6L459.3 112.0L459.8 113.4L460.3 114.8L460.8 116.2L461.3 117.6L461.8 119.0L462.3 120.5L462.8 121.9L463.3 123.3L463.8 124.7L464.3 126.1L464.8 127.5L465.4 128.9L465.9 130.3L466.4 131.7L466.9 133.1L467.4 134.5L467.9 135.9L468.4 137.4L468.9 138.8L469.4 140.2L470.0 141.6L470.5 143.0L471.0 144.4L471.5 145.8L472.0 147.2L472.5 148.6L473.0 150.0L473.5 151.4L474.1 152.8L474.6 154.2L475.1 155.7L475.6 157.1L476.1 158.5L476.6 159.9L477.1 161.3L477.6 162.7L478.2 164.1L478.7 165.5L479.2 166.9L479.7 168.3L480.2 169.7L480.7 171.2L481.2 172.6L481.8 174.0L482.3 175.4L482.8 176.8L483.3 178.2L483.8 179.6L484.3 181.0L484.9 182.4L485.4 183.8L485.9 185.2L486.4 186.6L486.9 188.1L487.5 189.5L488.0 190.9L488.5 192.3L489.0 193.7L489.5 195.1L490.1 196.5L490.6 197.9L491.1 199.3L491.6 200.7L492.2 202.1L492.7 203.5L493.2 204.9L493.7 206.3L494.3 207.7L494.8 209.1L495.3 210.6L495.9 212.0L496.4 213.4L496.9 214.8L497.4 216.2L498.0 217.6L498.5 219.0L499.0 220.4L499.6 221.8L500.1 223.2L500.7 224.6L501.2 226.0L501.7 227.4L502.3 228.8L502.8 230.2L503.4 231.6L503.9 233.0L504.4 234.4L505.0 235.8L505.5 237.2L506.1 238.6L506.6 240.0L507.2 241.4L507.7 242.8L508.3 244.1L508.8 245.5L509.4 246.9L510.0 248.3L510.5 249.7L511.1 251.1L511.6 252.5L512.2 253.9L512.8 255.3L513.3 256.7L513.9 258.1L514.4 259.5L515.0 260.8L515.6 262.2L516.2 263.6L516.7 265.0L517.3 266.4L517.9 267.8L518.5 269.2L519.0 270.5L519.6 271.9L520.2 273.3L520.8 274.7L521.4 276.1L521.9 277.4L522.5 278.8L523.1 280.2L523.7 281.6L524.3 283.0L524.9 284.3L525.5 285.7L526.1 287.1L526.7 288.5L527.3 289.8L527.9 291.2L528.5 292.6L529.1 293.9L529.7 295.3L530.3 296.7L530.9 298.1L531.5 299.4L532.1 300.8L532.8 302.1L533.4 303.5L534.0 304.9L534.6 306.2L535.3 307.6L535.9 309.0L536.5 310.3L537.1 311.7L537.8 313.0L538.4 314.4L539.0 315.7L539.7 317.1L540.3 318.5L541.0 319.8L541.6 321.2L542.3 322.5L542.9 323.9L543.6 325.2L544.2 326.6L544.9 327.9L545.5 329.2L546.2 330.6L546.8 331.9L547.5 333.3L548.2 334.6L548.8 336.0L549.5 337.3L550.2 338.6L550.9 340.0L551.6 341.3L552.2 342.6L552.9 344.0L553.6 345.3L554.3 346.6L555.0 347.9L555.7 349.3L556.4 350.6L557.1 351.9L557.8 353.2L558.5 354.5L559.2 355.9L559.9 357.2L560.7 358.5L561.4 359.8L562.1 361.1L562.8 362.4L563.6 363.7L564.3 365.0L565.0 366.3L565.8 367.6L566.5 368.9L567.3 370.2L568.0 371.5L568.8 372.8L569.5 374.1L570.3 375.4L571.0 376.6L571.8 377.9L572.6 379.2L573.4 380.5L574.1 381.7L574.9 383.0L575.7 384.3L576.5 385.6L577.3 386.8L578.1 388.1L578.9 389.3L579.7 390.6L580.5 391.8L581.3 393.1L582.2 394.3L583.0 395.6L583.8 396.8L584.7 398.1L585.5 399.3L586.3 400.5L587.2 401.8L588.0 403.0L588.9 404.2L589.7 405.4L590.6 406.7L591.5 407.9L592.3 409.1L593.2 410.3L594.1 411.5L595.0 412.7L595.9 413.9L596.8 415.1L597.7 416.3L598.6 417.5L599.5 418.7L600.4 419.9L601.3 421.0L602.3 422.2L603.2 423.4L604.1 424.6L605.1 425.7L606.0 426.9L607.0 428.1L607.9 429.2L608.9 430.4L609.8 431.5L610.8 432.7L611.8 433.8L612.8 434.9L613.8 436.1L614.8 437.2L615.8 438.3L616.8 439.4L617.8 440.6L618.8 441.7L619.8 442.8L620.8 443.9L621.9 445.0L622.9 446.1L624.0 447.2L625.0 448.2L626.1 449.3L627.1 450.4L628.2 451.4L629.3 452.5L630.4 453.5L631.4 454.6L632.5 455.6L633.6 456.6L634.8 457.7L635.9 458.7L637.0 459.7L638.1 460.7L639.3 461.6L640.4 462.6L641.5 463.6L642.7 464.5L643.9 465.5L645.0 466.4L646.2 467.3L647.4 468.2L648.6 469.1L649.8 470.0L651.0 470.9L652.2 471.8L653.4 472.6L654.6 473.5L655.9 474.3L657.1 475.1L658.4 475.9L659.6 476.7L660.9 477.5L662.2 478.3L663.4 479.0L664.7 479.8L666.0 480.5L667.3 481.2L668.6 481.9L670.0 482.5L671.3 483.2L672.6 483.8L674.0 484.4L675.3 485.0L676.7 485.6L678.1 486.2L679.4 486.7L680.8 487.2L682.2 487.7L683.6 488.1L685.1 488.6L686.5 489.0L687.9 489.3L689.3 489.7L690.8 490.0L692.3 490.3L693.7 490.6L695.2 490.8L696.7 491.0L698.2 491.2L699.7 491.3L701.2 491.5L702.7 491.6L704.2 491.7L705.7 491.7L707.2 491.7L708.7 491.7L710.2 491.7L711.7 491.7L713.2 491.6L714.8 491.5L716.3 491.4L717.8 491.3L719.3 491.1L720.8 490.9L722.3 490.7L723.8 490.5L725.3 490.3L726.8 490.0L728.3 489.7L729.8 489.4L731.2 489.1L732.7 488.7L734.2 488.4L735.6 488.0L737.1 487.6L738.5 487.2L739.9 486.8L741.4 486.3L742.8 485.8L744.2 485.3L745.6 484.8L747.0 484.3L748.4 483.8L749.8 483.2L751.2 482.6L752.5 482.1L753.9 481.4L755.3 480.8L756.6 480.2L758.0 479.5L759.3 478.9L760.6 478.2L761.9 477.5L763.2 476.8L764.6 476.0L765.9 475.3L767.1 474.5L768.4 473.8L769.7 473.0L771.0 472.2L772.2 471.4L773.5 470.6L774.7 469.7L776.0 468.9L777.2 468.0L778.4 467.1L779.6 466.3L780.8 465.4L782.0 464.5L783.2 463.5L784.4 462.6L785.5 461.7L786.7 460.7L787.9 459.7L789.0 458.8L790.1 457.8L791.3 456.8L792.4 455.8L793.5 454.8L794.6 453.7L795.7 452.7L796.8 451.7L797.9 450.6L798.9 449.6L800.0 448.5L801.0 447.4L802.1 446.3L803.1 445.3L804.1 444.2L805.1 443.1L806.2 441.9L807.1 440.8L808.1 439.7L809.1 438.6L810.1 437.4L811.0 436.3L812.0 435.1L812.9 434.0L813.9 432.8L814.8 431.6L815.7 430.5L816.6 429.3L817.5 428.1L818.4 426.9L819.3 425.7L820.2 424.6L821.1 423.4L822.0 422.2L822.9 421.0L823.7 419.8L824.6 418.6L825.5 417.4L826.4 416.1L827.2 414.9L828.1 413.7L829.0 412.5L829.9 411.3L830.7 410.1L831.6 408.9L832.5 407.7L833.4 406.5L834.2 405.3L835.1 404.0L836.0 402.8L836.9 401.6L837.8 400.4L838.7 399.2L839.6 398.0L840.5 396.8L841.4 395.6L842.3 394.4L843.1 393.2L844.0 391.9L844.9 390.7L845.8 389.5L846.7 388.3L847.5 387.1L848.4 385.8L849.3 384.6L850.1 383.4L851.0 382.1L851.8 380.9L852.7 379.7L853.5 378.4L854.3 377.2L855.2 375.9L856.0 374.7L856.8 373.4L857.7 372.2L858.5 370.9L859.3 369.7L860.1 368.4L860.9 367.2L861.7 365.9L862.5 364.6L863.3 363.4L864.1 362.1L864.9 360.8L865.7 359.6L866.5 358.3L867.3 357.0L868.1 355.7L868.8 354.4L869.6 353.2L870.4 351.9L871.1 350.6L871.9 349.3L872.7 348.0L873.4 346.7L874.2 345.4L874.9 344.1L875.7 342.8L876.4 341.5L877.2 340.3L877.9 339.0L878.6 337.6L879.4 336.3L880.1 335.0L880.8 333.7L881.6 332.4L882.3 331.1L883.0 329.8L883.7 328.5L884.4 327.2L885.2 325.9L885.9 324.5L886.6 323.2L887.3 321.9L888.0 320.6L888.7 319.3L889.4 317.9L890.1 316.6L890.8 315.3L891.5 313.9L892.2 312.6L892.8 311.3L893.5 310.0L894.2 308.6L894.9 307.3L895.6 305.9L896.2 304.6L896.9 303.3L897.6 301.9L898.3 300.6L898.9 299.3L899.6 297.9L900.3 296.6L900.9 295.2L901.6 293.9L902.2 292.5L902.9 291.2L903.6 289.8L904.2 288.5L904.9 287.1L905.5 285.8L906.2 284.4L906.8 283.1L907.4 281.7L908.1 280.4L908.7 279.0L909.4 277.7L910.0 276.3L910.6 274.9L911.3 273.6L911.9 272.2L912.6 270.9L913.2 269.5L913.8 268.1L914.4 266.8L915.1 265.4L915.7 264.1L916.3 262.7L917.0 261.3L917.6 260.0L918.2 258.6L918.8 257.2L919.4 255.9L920.1 254.5L920.7 253.1L921.3 251.8L921.9 250.4L922.5 249.0L923.1 247.7L923.8 246.3L924.4 244.9L925.0 243.6L925.6 242.2L926.2 240.8L926.8 239.5L927.4 238.1L928.0 236.7L928.6 235.3L929.2 234.0L929.9 232.6L930.5 231.2L931.1 229.9L931.7 228.5L932.3 227.1L932.9 225.7L933.5 224.4L934.1 223.0L934.7 221.6L935.3 220.3L935.9 218.9L936.5 217.5L937.1 216.1L937.7 214.8L938.3 213.4L938.9 212.0L939.4 210.6L940.0 209.2L940.6 207.9L941.2 206.5L941.8 205.1L942.4 203.7L943.0 202.4L943.6 201.0L944.2 199.6L944.8 198.2L945.3 196.8L945.9 195.5L946.5 194.1L947.1 192.7L947.7 191.3L948.3 189.9L948.8 188.6L949.4 187.2L950.0 185.8L950.6 184.4L951.2 183.0L951.7 181.7L952.3 180.3L952.9 178.9L953.5 177.5L954.0 176.1L954.6 174.7L955.2 173.4L955.7 172.0L956.3 170.6L956.9 169.2L957.4 167.8L958.0 166.4L958.6 165.0L959.1 163.7L959.7 162.3L960.3 160.9L960.8 159.5L961.4 158.1L962.0 156.7L962.5 155.3L963.1 153.9L963.6 152.5L964.2 151.2L964.8 149.8L965.3 148.4L965.9 147.0L966.4 145.6L967.0 144.2L967.5 142.8L968.1 141.4L968.6 140.0L969.2 138.6L969.7 137.2L970.3 135.8L970.8 134.4L971.4 133.1L971.9 131.7L972.5 130.3L973.0 128.9L973.5 127.5L974.1 126.1L974.6 124.7L975.2 123.3L975.7 121.9L976.2 120.5L976.8 119.1L977.3 117.7L977.9 116.3L978.4 114.9L978.9 113.5L979.5 112.1L980.0 110.7L980.5 109.3L981.0 107.9L981.6 106.5L982.1 105.1L982.6 103.7L983.2 102.3L983.7 100.9L984.2 99.5L984.7 98.1L985.3 96.7L985.8 95.3L986.3 93.9L986.8 92.4L987.3 91.0L987.9 89.6L988.4 88.2L988.9 86.8L989.4 85.4L989.9 84.0L990.4 82.6L990.9 81.2L991.5 79.8L992.0 78.4L992.5 77.0L993.0 75.5L993.5 74.1L994.0 72.7L994.5 71.3L995.0 69.9L995.5 68.5L996.0 67.1L996.5 65.7L997.0 64.2L997.5 62.8L998.0 61.4L998.5 60.0L999.0 58.6L999.5 57.2L1000.0 55.8L1000.5 54.3L1001.0 52.9L1001.5 51.5L1002.0 50.1L1002.5 48.7L1002.9 47.3L1003.4 45.8L1003.9 44.4L1004.4 43.0L1004.9 41.6L1005.4 40.2L1005.9 38.7L1006.3 37.3L1006.8 35.9L1007.3 34.5L1007.8 33.0L1008.3 31.6L1008.7 30.2L1009.2 28.8L1009.7 27.3L1010.2 25.9L1010.6 24.5L1011.1 23.1L1011.6 21.6L1012.0 20.2L1012.5 18.8L1013.0 17.4L1013.4 15.9L1013.9 14.5L1014.4 13.1L1014.8 11.7" stroke="#035E03" /></g><g clip-path="url(#cb)" fill="none" stroke-width="6.8" stroke-linejoin="round" stroke-linecap="butt"><path d="M186.4 923.7L187.3 924.9L188.1 926.1L188.9 927.4L189.8 928.6L190.6 929.9L191.5 931.1L192.4 932.3L193.2 933.5L194.1 934.8L194.9 936.0L195.8 937.2L196.6 938.5L197.5 939.7L198.4 940.9L199.2 942.1L200.1 943.3L201.0 944.6L201.9 945.8L202.7 947.0L203.6 948.2L204.5 949.4L205.4 950.6L206.3 951.8L207.2 953.0L208.1 954.2L209.0 955.4L209.9 956.6L210.8 957.8L211.7 959.0L212.6 960.2L213.5 961.4L214.4 962.6L215.3 963.8L216.2 964.9L217.2 966.1L218.1 967.3L219.0 968.5L220.0 969.6L220.9 970.8L221.8 972.0L222.8 973.1L223.7 974.3L224.7 975.4L225.6 976.6L226.6 977.7L227.6 978.9L228.5 980.0L229.5 981.2L230.5 982.3L231.4 983.4L232.4 984.6L233.4 985.7L234.4 986.8L235.4 987.9L236.4 989.0L237.4 990.1L238.4 991.2L239.4 992.4L240.4 993.5L241.4 994.5L242.5 995.6L243.5 996.7L244.5 997.8L245.5 998.9L246.6 1000.0L247.6 1001.1L248.6 1002.2L249.6 1003.3L250.6 1004.4L251.6 1005.5L252.6 1006.6L253.6 1007.7L254.6 1008.8L255.6 1009.9L256.6 1010.9L257.6 1012.0L258.6 1013.1L259.6 1014.2L260.6 1015.2L261.7 1016.2L262.8 1017.2L263.8 1018.2L264.9 1019.2L266.0 1020.2L267.2 1021.2L268.3 1022.1L269.4 1023.1L270.6 1024.0L271.7 1025.0L272.9 1025.9L274.0 1026.9L275.2 1027.8L276.4 1028.8L277.5 1029.7L278.7 1030.6L279.9 1031.6L281.1 1032.5L282.3 1033.4L283.5 1034.2L284.7 1035.1L285.9 1036.0L287.2 1036.8L288.4 1037.6L289.7 1038.4L291.0 1039.1L292.2 1039.9L293.6 1040.6L294.9 1041.2L296.2 1041.9L297.5 1042.6L298.9 1043.2L300.2 1043.8L301.6 1044.4L303.0 1044.9L304.4 1045.5L305.8 1046.0L307.2 1046.5L308.6 1047.0L310.0 1047.5L311.4 1048.0L312.8 1048.5L314.3 1048.9L315.7 1049.3L317.2 1049.7L318.6 1050.1L320.1 1050.5L321.5 1050.9L323.0 1051.2L324.4 1051.5L325.9 1051.8L327.4 1052.1L328.9 1052.4L330.4 1052.7L331.8 1052.9L333.3 1053.1L334.8 1053.4L336.3 1053.6L337.8 1053.7L339.3 1053.9L340.8 1054.0L342.3 1054.2L343.8 1054.3L345.3 1054.3L346.8 1054.4L348.3 1054.5L349.8 1054.5L351.3 1054.5L352.8 1054.5L354.3 1054.5L355.8 1054.5L357.3 1054.4L358.8 1054.3L360.3 1054.3L361.8 1054.1L363.3 1054.0L364.8 1053.9L366.3 1053.7L367.7 1053.5L369.2 1053.3L370.7 1053.1L372.2 1052.8L373.6 1052.6L375.1 1052.3L376.6 1052.0L378.0 1051.7L379.5 1051.3L380.9 1051.0L382.4 1050.6L383.8 1050.2L385.2 1049.8L386.6 1049.4L388.1 1048.9L389.5 1048.4L390.9 1047.9L392.3 1047.4L393.7 1046.9L395.0 1046.3L396.4 1045.7L397.8 1045.1L399.1 1044.5L400.5 1043.9L401.8 1043.2L403.1 1042.5L404.5 1041.8L405.8 1041.1L407.1 1040.4L408.4 1039.6L409.7 1038.8L410.9 1038.0L412.2 1037.2L413.5 1036.4L414.7 1035.6L415.9 1034.7L417.2 1033.8L418.4 1033.0L419.6 1032.1L420.8 1031.1L422.0 1030.2L423.2 1029.3L424.3 1028.3L425.5 1027.4L426.6 1026.4L427.8 1025.4L428.9 1024.4L430.0 1023.4L431.1 1022.4L432.2 1021.3L433.3 1020.3L434.4 1019.3L435.5 1018.2L436.5 1017.2L437.6 1016.2L438.7 1015.1L439.8 1014.1L440.8 1013.0L441.9 1012.0L443.0 1011.0L444.1 1009.9L445.2 1008.9L446.3 1007.9L447.4 1006.9L448.5 1005.9L449.6 1004.9L450.8 1004.0L451.9 1003.0L453.1 1002.1L454.2 1001.2L455.4 1000.3L456.6 999.4L457.8 998.5L459.0 997.6L460.2 996.7L461.4 995.8L462.5 994.9L463.7 994.0L464.8 993.0L465.9 992.1L467.0 991.1L468.0 990.1L469.0 989.0L470.0 987.9L470.9 986.8L471.8 985.7L472.7 984.5L473.6 983.3L474.4 982.1L475.2 980.9L476.0 979.6L476.8 978.4L477.7 977.1L478.5 975.9L479.3 974.7L480.1 973.4L481.0 972.2L481.9 971.0L482.8 969.8L483.7 968.7L484.6 967.5L485.6 966.4L486.6 965.2L487.6 964.1L488.6 963.0L489.6 961.9L490.6 960.8L491.6 959.7L492.6 958.6L493.6 957.5L494.7 956.4L495.7 955.3L496.7 954.2L497.7 953.1L498.7 952.0L499.7 950.8L500.6 949.7L501.6 948.6L502.6 947.4L503.5 946.3L504.5 945.1L505.4 943.9L506.3 942.7L507.3 941.6L508.2 940.4L509.1 939.2L510.0 938.0L510.9 936.8L511.7 935.6L512.6 934.4L513.5 933.1L514.3 931.9L515.1 930.7L516.0 929.4L516.8 928.2L517.6 926.9L518.4 925.7L519.1 924.4L519.9 923.1L520.7 921.8L521.4 920.5L522.1 919.2L522.8 917.9L523.6 916.6L524.3 915.3L525.0 914.0L525.7 912.7L526.5 911.4L527.2 910.1L527.9 908.9L528.7 907.6L529.5 906.3L530.3 905.1L531.1 903.8L531.9 902.6L532.8 901.4L533.6 900.2L534.5 899.0L535.4 897.8L536.3 896.6L537.2 895.4L538.1 894.2L539.0 893.0L539.9 891.8L540.9 890.6L541.8 889.4L542.7 888.3L543.6 887.1L544.5 885.8L545.4 884.6L546.3 883.4L547.1 882.2L548.0 881.0L548.9 879.7L549.7 878.5L550.5 877.3L551.4 876.0L552.2 874.7L552.9 873.5L553.7 872.2L554.5 870.9L555.2 869.6L555.9 868.3L556.6 866.9L557.3 865.6L557.9 864.3L558.6 862.9L559.3 861.6L559.9 860.2L560.5 858.9L561.2 857.5L561.8 856.2L562.4 854.8L563.0 853.4L563.6 852.1L564.2 850.7L564.8 849.3L565.4 848.0L566.0 846.6L566.6 845.2L567.3 843.9L567.9 842.5L568.5 841.1L569.1 839.8L569.8 838.4L570.4 837.1L571.1 835.7L571.7 834.4L572.4 833.1L573.1 831.7L573.8 830.4L574.4 829.1L575.1 827.7L575.8 826.4L576.5 825.1L577.2 823.8L577.9 822.5L578.7 821.1L579.4 819.8L580.1 818.5L580.8 817.2L581.5 815.9L582.2 814.6L582.9 813.3L583.7 812.0L584.4 810.6L585.1 809.3L585.8 808.0L586.5 806.7L587.2 805.4L588.0 804.1L588.7 802.7L589.4 801.4L590.1 800.1L590.8 798.8L591.5 797.5L592.3 796.2L593.0 794.8L593.7 793.5L594.4 792.2L595.1 790.9L595.8 789.6L596.5 788.2L597.2 786.9L597.9 785.6L598.6 784.2L599.3 782.9L600.0 781.6L600.7 780.3L601.4 778.9L602.0 777.6L602.7 776.3L603.4 774.9L604.1 773.6L604.8 772.3L605.4 770.9L606.1 769.6L606.7 768.2L607.4 766.9L608.1 765.5L608.7 764.2L609.4 762.8L610.0 761.5L610.7 760.2L611.3 758.8L612.0 757.5L612.6 756.1L613.2 754.7L613.9 753.4L614.5 752.0L615.1 750.7L615.8 749.3L616.4 748.0L617.0 746.6L617.7 745.3L618.3 743.9L618.9 742.5L619.5 741.2L620.1 739.8L620.8 738.5L621.4 737.1L622.0 735.7L622.6 734.4L623.2 733.0L623.9 731.7L624.5 730.3L625.1 728.9L625.7 727.6L626.3 726.2L626.9 724.8L627.6 723.5L628.2 722.1L628.8 720.8L629.4 719.4L630.0 718.0L630.6 716.7L631.2 715.3L631.9 713.9L632.5 712.6L633.1 711.2L633.7 709.8L634.3 708.5L634.9 707.1L635.5 705.8L636.2 704.4L636.8 703.0L637.4 701.7L638.0 700.3L638.6 698.9L639.2 697.6L639.9 696.2L640.5 694.8L641.1 693.5L641.7 692.1L642.3 690.8L642.9 689.4L643.6 688.0L644.2 686.7L644.8 685.3L645.4 683.9L646.0 682.6L646.6 681.2L647.2 679.8L647.9 678.5L648.5 677.1L649.1 675.7L649.7 674.4L650.3 673.0L650.9 671.7L651.5 670.3L652.1 668.9L652.8 667.6L653.4 666.2L654.0 664.8L654.6 663.5L655.2 662.1L655.8 660.7L656.4 659.3L657.0 658.0L657.6 656.6L658.2 655.2L658.9 653.9L659.5 652.5L660.1 651.1L660.7 649.8L661.3 648.4L661.9 647.0L662.5 645.7L663.1 644.3L663.7 642.9L664.3 641.5L664.9 640.2L665.5 638.8L666.1 637.4L666.7 636.0L667.3 634.7L667.9 633.3L668.5 631.9L669.0 630.5L669.6 629.2L670.2 627.8L670.8 626.4L671.4 625.0L672.0 623.6L672.6 622.3L673.1 620.9L673.7 619.5L674.3 618.1L674.9 616.7L675.4 615.3L676.0 614.0L676.6 612.6L677.2 611.2L677.7 609.8L678.3 608.4L678.8 607.0L679.4 605.6L680.0 604.3L680.5 602.9L681.1 601.5L681.6 600.1L682.2 598.7L682.7 597.3L683.3 595.9L683.8 594.5L684.3 593.1L684.9 591.7L685.4 590.3L685.9 588.9L686.5 587.5L687.0 586.1L687.5 584.7L688.0 583.3L688.6 581.9L689.1 580.5L689.6 579.1L690.1 577.7L690.6 576.3L691.1 574.8L691.6 573.4L692.1 572.0L692.6 570.6L693.1 569.2L693.6 567.8L694.1 566.4L694.5 564.9L695.0 563.5L695.5 562.1L696.0 560.7" stroke="#FDD75A" /><path d="M188.5 791.7L189.0 793.1L189.5 794.5L190.0 795.9L190.6 797.3L191.1 798.7L191.6 800.2L192.2 801.6L192.7 803.0L193.3 804.3L193.9 805.7L194.4 807.1L195.0 808.5L195.6 809.9L196.2 811.3L196.8 812.6L197.4 814.0L198.0 815.4L198.6 816.7L199.2 818.1L199.8 819.4L200.5 820.8L201.1 822.1L201.7 823.5L202.4 824.8L203.0 826.2L203.7 827.5L204.3 828.8L205.0 830.2L205.7 831.5L206.3 832.8L207.0 834.2L207.7 835.5L208.4 836.8L209.1 838.1L209.8 839.5L210.5 840.8L211.2 842.1L211.9 843.4L212.6 844.7L213.3 846.0L214.0 847.4L214.7 848.7L215.5 850.0L216.2 851.3L216.9 852.6L217.7 853.9L218.4 855.2L219.1 856.5L219.9 857.8L220.6 859.1L221.4 860.4L222.1 861.7L222.9 863.0L223.6 864.3L224.4 865.6L225.1 866.9L225.9 868.2L226.6 869.5L227.4 870.8L228.1 872.1L228.9 873.4L229.7 874.7L230.4 875.9L231.2 877.2L232.0 878.5L232.7 879.8L233.5 881.1L234.2 882.4L235.0 883.7L235.8 885.0L236.5 886.3L237.3 887.6L238.1 888.9L238.8 890.2L239.6 891.5L240.3 892.8L241.1 894.0L241.9 895.3L242.6 896.6L243.4 897.9L244.1 899.2L244.9 900.5L245.6 901.8L246.4 903.1L247.1 904.4L247.9 905.7L248.6 907.0L249.4 908.3L250.1 909.6L250.9 910.9L251.6 912.2L252.4 913.5L253.1 914.8L253.9 916.1L254.6 917.4L255.4 918.7L256.1 920.0L256.9 921.3L257.6 922.6L258.4 923.9L259.1 925.2L259.9 926.5L260.6 927.8L261.4 929.0L262.1 930.3L262.9 931.6L263.6 932.9L264.4 934.2L265.1 935.5L265.9 936.8L266.6 938.1L267.4 939.4L268.2 940.7L268.9 942.0L269.7 943.3L270.4 944.6L271.2 945.9L272.0 947.2L272.7 948.4L273.5 949.7L274.2 951.0L275.0 952.3L275.8 953.6L276.6 954.9L277.3 956.2L278.1 957.5L278.9 958.7L279.6 960.0L280.4 961.3L281.2 962.6L282.0 963.9L282.8 965.1L283.5 966.4L284.3 967.7L285.1 969.0L285.9 970.3L286.7 971.5L287.5 972.8L288.3 974.1L289.1 975.3L289.9 976.6L290.7 977.9L291.5 979.1L292.3 980.4L293.2 981.7L294.0 982.9L294.8 984.2L295.6 985.4L296.5 986.7L297.3 987.9L298.2 989.1L299.0 990.3L299.9 991.6L300.8 992.8L301.7 994.0L302.5 995.2L303.4 996.4L304.3 997.6L305.2 998.8L306.2 1000.0L307.1 1001.1L308.0 1002.3L309.0 1003.4L309.9 1004.6L310.9 1005.7L311.9 1006.9L312.8 1008.0L313.8 1009.1L314.8 1010.2L315.8 1011.3L316.9 1012.4L317.9 1013.5L318.9 1014.5L319.9 1015.6L321.0 1016.7L322.0 1017.7L323.0 1018.8L324.1 1019.8L325.1 1020.9L326.2 1021.9L327.2 1022.9L328.3 1024.0L329.3 1025.0L330.4 1026.0L331.5 1027.0L332.6 1028.0L333.7 1028.9L334.8 1029.9L335.9 1030.8L337.0 1031.8L338.2 1032.7L339.3 1033.6L340.5 1034.5L341.7 1035.3L342.9 1036.2L344.1 1037.1L345.3 1037.9L346.5 1038.8L347.8 1039.6L349.1 1040.4L350.4 1041.2L351.7 1042.0L353.0 1042.8L354.3 1043.5L355.6 1044.3L357.0 1045.0L358.4 1045.7L359.7 1046.4L361.1 1047.1L362.5 1047.8L363.9 1048.4L365.3 1049.0L366.8 1049.6L368.2 1050.1L369.6 1050.6L371.1 1051.1L372.5 1051.5L374.0 1051.9L375.4 1052.3L376.9 1052.6L378.4 1052.9L379.8 1053.2L381.3 1053.4L382.8 1053.5L384.2 1053.6L385.7 1053.7L387.2 1053.7L388.6 1053.7L390.1 1053.6L391.6 1053.4L393.0 1053.2L394.5 1053.0L396.0 1052.7L397.4 1052.4L398.8 1052.0L400.3 1051.6L401.7 1051.2L403.1 1050.8L404.6 1050.3L406.0 1049.7L407.4 1049.2L408.7 1048.6L410.1 1048.1L411.5 1047.5L412.8 1046.8L414.2 1046.2L415.5 1045.6L416.9 1044.9L418.2 1044.2L419.5 1043.6L420.9 1042.9L422.2 1042.2L423.5 1041.5L424.8 1040.8L426.2 1040.1L427.5 1039.4L428.8 1038.7L430.1 1038.0L431.5 1037.3L432.8 1036.6L434.1 1035.9L435.5 1035.2L436.8 1034.5L438.2 1033.8L439.5 1033.2L440.8 1032.5L442.2 1031.8L443.5 1031.1L444.9 1030.4L446.2 1029.7L447.6 1029.0L448.9 1028.4L450.3 1027.7L451.6 1027.0L453.0 1026.3L454.3 1025.6L455.7 1024.9L457.0 1024.2L458.4 1023.5L459.7 1022.8L461.0 1022.1L462.4 1021.4L463.7 1020.7L465.0 1020.0L466.4 1019.2L467.7 1018.5L469.0 1017.8L470.3 1017.1L471.6 1016.3L472.9 1015.6L474.2 1014.8L475.5 1014.1L476.8 1013.3L478.1 1012.5L479.4 1011.7L480.7 1011.0L481.9 1010.2L483.2 1009.4L484.4 1008.6L485.7 1007.7L486.9 1006.9L488.2 1006.1L489.4 1005.2L490.6 1004.4L491.8 1003.5L493.0 1002.6L494.2 1001.8L495.4 1000.9L496.6 1000.0L497.7 999.1L498.9 998.1L500.0 997.2L501.2 996.2L502.3 995.3L503.4 994.3L504.5 993.3L505.6 992.3L506.7 991.3L507.8 990.3L508.8 989.3L509.9 988.2L510.9 987.1L511.9 986.1L513.0 985.0L514.0 983.9L515.0 982.8L515.9 981.6L516.9 980.5L517.9 979.4L518.9 978.2L519.8 977.1L520.8 975.9L521.7 974.8L522.7 973.6L523.6 972.4L524.6 971.2L525.5 970.1L526.4 968.9L527.4 967.7L528.3 966.5L529.2 965.3L530.2 964.1L531.1 962.9L532.0 961.8L533.0 960.6L533.9 959.4L534.8 958.2L535.8 957.0L536.7 955.9L537.7 954.7L538.6 953.5L539.6 952.4L540.6 951.2L541.6 950.1L542.5 948.9L543.5 947.8L544.5 946.7L545.5 945.6L546.5 944.4L547.5 943.3L548.5 942.2L549.4 941.0L550.4 939.9L551.4 938.8L552.3 937.6L553.3 936.4L554.2 935.3L555.1 934.1L556.0 932.9L556.9 931.7L557.7 930.5L558.6 929.3L559.4 928.0L560.3 926.8L561.1 925.5L561.9 924.3L562.7 923.0L563.5 921.7L564.3 920.4L565.1 919.2L565.8 917.9L566.6 916.6L567.4 915.3L568.1 914.0L568.9 912.7L569.7 911.4L570.4 910.1L571.2 908.8L571.9 907.5L572.7 906.2L573.4 904.9L574.2 903.6L574.9 902.3L575.6 901.0L576.4 899.7L577.1 898.4L577.8 897.1L578.5 895.8L579.3 894.5L580.0 893.2L580.7 891.8L581.4 890.5L582.1 889.2L582.8 887.9L583.5 886.6L584.2 885.2L584.9 883.9L585.7 882.6L586.3 881.3L587.0 879.9L587.7 878.6L588.4 877.3L589.1 876.0L589.8 874.6L590.5 873.3L591.2 872.0L591.9 870.6L592.6 869.3L593.2 868.0L593.9 866.6L594.6 865.3L595.3 864.0L595.9 862.6L596.6 861.3L597.3 859.9L598.0 858.6L598.6 857.3L599.3 855.9L600.0 854.6L600.6 853.2L601.3 851.9L602.0 850.6L602.6 849.2L603.3 847.9L604.0 846.5L604.6 845.2L605.3 843.8L606.0 842.5L606.6 841.1L607.3 839.8L607.9 838.5L608.6 837.1L609.3 835.8L609.9 834.4L610.6 833.1L611.2 831.7L611.9 830.4L612.6 829.0L613.2 827.7L613.9 826.3L614.5 825.0L615.2 823.6L615.9 822.3L616.5 820.9L617.2 819.6L617.8 818.2L618.5 816.9L619.2 815.6L619.8 814.2L620.5 812.9L621.1 811.5L621.8 810.2L622.5 808.8L623.1 807.5L623.8 806.1L624.5 804.8L625.1 803.4L625.8 802.1L626.5 800.7L627.1 799.4L627.8 798.1L628.4 796.7L629.1 795.4L629.8 794.0L630.4 792.7L631.1 791.3L631.7 790.0L632.4 788.6L633.1 787.3L633.7 785.9L634.4 784.6L635.0 783.2L635.7 781.9L636.3 780.5L637.0 779.2L637.6 777.8L638.2 776.5L638.9 775.1L639.5 773.8L640.2 772.4L640.8 771.0L641.4 769.7L642.1 768.3L642.7 767.0L643.3 765.6L644.0 764.2L644.6 762.9L645.2 761.5L645.8 760.1L646.4 758.8L647.0 757.4L647.6 756.0L648.2 754.7L648.8 753.3L649.4 751.9L650.0 750.6L650.6 749.2L651.2 747.8L651.8 746.4L652.4 745.0L653.0 743.7L653.5 742.3L654.1 740.9L654.7 739.5L655.2 738.1L655.8 736.7L656.3 735.3L656.9 733.9L657.4 732.6L658.0 731.2L658.5 729.8L659.1 728.4L659.6 727.0L660.1 725.6L660.7 724.2L661.2 722.8L661.7 721.4L662.3 720.0L662.8 718.6L663.3 717.2L663.8 715.8L664.3 714.4L664.9 713.0L665.4 711.5L665.9 710.1L666.4 708.7L666.9 707.3L667.4 705.9L668.0 704.5L668.5 703.1L669.0 701.7L669.5 700.3L670.0 698.9L670.5 697.5L671.0 696.1L671.5 694.7L672.0 693.2L672.6 691.8L673.1 690.4L673.6 689.0L674.1 687.6L674.6 686.2L675.1 684.8L675.7 683.4L676.2 682.0L676.7 680.6L677.2 679.2L677.8 677.8L678.3 676.4L678.8 675.0L679.3 673.6L679.9 672.2L680.4 670.8L680.9 669.4L681.5 668.0L682.0 666.6L682.6 665.2L683.1 663.8L683.7 662.4L684.2 661.0L684.8 659.6L685.4 658.2L685.9 656.8L686.5 655.5L687.0 654.1L687.6 652.7L688.2 651.3L688.8 649.9L689.3 648.5L689.9 647.1L690.5 645.8L691.1 644.4L691.7 643.0L692.2 641.6L692.8 640.2L693.4 638.9L694.0 637.5L694.6 636.1L695.2 634.7L695.8 633.3L696.4 632.0L696.9 630.6L697.5 629.2L698.1 627.8L698.7 626.4L699.3 625.1L699.9 623.7L700.5 622.3L701.1 620.9L701.7 619.6L702.2 618.2L702.8 616.8L703.4 615.4L704.0 614.0L704.6 612.6L705.1 611.3L705.7 609.9L706.3 608.5L706.9 607.1L707.4 605.7L708.0 604.3L708.6 602.9L709.1 601.6L709.7 600.2L710.3 598.8L710.8 597.4L711.4 596.0L711.9 594.6L712.5 593.2L713.0 591.8L713.6 590.4L714.1 589.0L714.6 587.6L715.2 586.2L715.7 584.8L716.2 583.4L716.7 582.0L717.2 580.6L717.7 579.2L718.2 577.7L718.7 576.3L719.2 574.9L719.7 573.5L720.2 572.1L720.7 570.6L721.1 569.2L721.6 567.8L722.1 566.4L722.5 564.9L723.0 563.5L723.4 562.1L723.9 560.6" stroke="#E0F8BE" /><path d="M190.8 628.2L190.9 629.7L191.1 631.2L191.3 632.7L191.5 634.2L191.7 635.7L191.9 637.2L192.2 638.7L192.4 640.2L192.7 641.7L192.9 643.1L193.2 644.6L193.5 646.1L193.8 647.5L194.2 649.0L194.5 650.5L194.8 651.9L195.2 653.4L195.6 654.8L195.9 656.3L196.3 657.7L196.7 659.2L197.1 660.6L197.5 662.0L197.9 663.5L198.4 664.9L198.8 666.3L199.3 667.8L199.7 669.2L200.2 670.6L200.7 672.0L201.1 673.4L201.6 674.9L202.1 676.3L202.6 677.7L203.1 679.1L203.6 680.5L204.1 681.9L204.7 683.3L205.2 684.7L205.7 686.1L206.2 687.5L206.8 688.9L207.3 690.3L207.9 691.7L208.4 693.1L209.0 694.5L209.5 695.9L210.1 697.3L210.7 698.7L211.2 700.0L211.8 701.4L212.4 702.8L213.0 704.2L213.5 705.6L214.1 707.0L214.7 708.4L215.3 709.8L215.8 711.1L216.4 712.5L217.0 713.9L217.6 715.3L218.2 716.7L218.7 718.1L219.3 719.5L219.9 720.9L220.4 722.2L221.0 723.6L221.6 725.0L222.2 726.4L222.7 727.8L223.3 729.2L223.9 730.6L224.4 732.0L225.0 733.4L225.5 734.7L226.1 736.1L226.7 737.5L227.2 738.9L227.8 740.3L228.3 741.7L228.9 743.1L229.4 744.5L230.0 745.9L230.6 747.3L231.1 748.7L231.7 750.0L232.2 751.4L232.8 752.8L233.3 754.2L233.9 755.6L234.4 757.0L235.0 758.4L235.5 759.8L236.1 761.2L236.6 762.6L237.2 764.0L237.7 765.4L238.3 766.7L238.8 768.1L239.4 769.5L240.0 770.9L240.5 772.3L241.1 773.7L241.6 775.1L242.2 776.5L242.7 777.9L243.3 779.3L243.9 780.6L244.4 782.0L245.0 783.4L245.5 784.8L246.1 786.2L246.7 787.6L247.2 789.0L247.8 790.4L248.4 791.7L248.9 793.1L249.5 794.5L250.1 795.9L250.7 797.3L251.2 798.7L251.8 800.0L252.4 801.4L253.0 802.8L253.6 804.2L254.2 805.6L254.8 806.9L255.3 808.3L255.9 809.7L256.5 811.1L257.1 812.4L257.7 813.8L258.3 815.2L258.9 816.6L259.5 817.9L260.1 819.3L260.8 820.7L261.4 822.1L262.0 823.4L262.6 824.8L263.2 826.2L263.8 827.5L264.4 828.9L265.0 830.3L265.7 831.6L266.3 833.0L266.9 834.4L267.5 835.8L268.1 837.1L268.7 838.5L269.3 839.9L269.9 841.2L270.5 842.6L271.1 844.0L271.7 845.4L272.3 846.7L272.9 848.1L273.5 849.5L274.1 850.9L274.7 852.2L275.3 853.6L275.8 855.0L276.4 856.4L277.0 857.8L277.5 859.2L278.1 860.5L278.7 861.9L279.2 863.3L279.7 864.7L280.3 866.1L280.8 867.5L281.3 868.9L281.9 870.3L282.4 871.7L282.9 873.1L283.4 874.5L283.9 875.9L284.4 877.3L284.9 878.7L285.4 880.1L285.9 881.5L286.4 883.0L286.9 884.4L287.4 885.8L287.9 887.2L288.5 888.6L289.0 890.0L289.5 891.4L290.0 892.8L290.6 894.2L291.1 895.6L291.6 896.9L292.2 898.3L292.7 899.7L293.3 901.1L293.9 902.5L294.5 903.9L295.1 905.2L295.7 906.6L296.3 908.0L296.9 909.3L297.6 910.7L298.2 912.0L298.9 913.4L299.6 914.7L300.3 916.1L300.9 917.4L301.6 918.7L302.4 920.1L303.1 921.4L303.8 922.7L304.5 924.0L305.3 925.4L306.0 926.7L306.7 928.0L307.5 929.3L308.2 930.6L309.0 931.9L309.8 933.2L310.5 934.5L311.3 935.8L312.1 937.1L312.8 938.4L313.6 939.7L314.4 941.0L315.2 942.3L315.9 943.6L316.7 944.9L317.5 946.2L318.3 947.4L319.0 948.7L319.8 950.0L320.6 951.3L321.3 952.6L322.1 953.8L322.9 955.1L323.7 956.4L324.5 957.7L325.2 958.9L326.0 960.2L326.8 961.5L327.6 962.7L328.4 964.0L329.2 965.3L329.9 966.5L330.7 967.8L331.5 969.0L332.3 970.3L333.1 971.5L334.0 972.8L334.8 974.0L335.6 975.3L336.4 976.5L337.2 977.7L338.0 979.0L338.9 980.2L339.7 981.4L340.6 982.6L341.4 983.9L342.3 985.1L343.1 986.3L344.0 987.5L344.8 988.7L345.7 989.9L346.6 991.1L347.5 992.3L348.4 993.5L349.3 994.7L350.2 995.9L351.1 997.1L352.0 998.2L353.0 999.4L353.9 1000.6L354.8 1001.7L355.8 1002.9L356.8 1004.1L357.7 1005.2L358.7 1006.4L359.7 1007.5L360.7 1008.7L361.7 1009.8L362.7 1010.9L363.7 1012.1L364.8 1013.2L365.8 1014.3L366.8 1015.4L367.9 1016.5L369.0 1017.6L370.0 1018.6L371.1 1019.7L372.2 1020.8L373.3 1021.8L374.4 1022.9L375.5 1023.9L376.7 1024.9L377.8 1025.9L378.9 1026.9L380.1 1027.9L381.2 1028.9L382.4 1029.9L383.6 1030.8L384.8 1031.7L386.0 1032.7L387.2 1033.6L388.4 1034.5L389.6 1035.4L390.8 1036.2L392.0 1037.1L393.3 1037.9L394.5 1038.7L395.8 1039.5L397.1 1040.3L398.3 1041.1L399.6 1041.8L400.9 1042.6L402.2 1043.3L403.5 1044.0L404.9 1044.6L406.2 1045.3L407.5 1045.9L408.9 1046.5L410.2 1047.1L411.6 1047.7L412.9 1048.3L414.3 1048.8L415.7 1049.3L417.1 1049.8L418.5 1050.2L419.9 1050.7L421.3 1051.1L422.7 1051.5L424.2 1051.9L425.6 1052.2L427.1 1052.5L428.5 1052.8L430.0 1053.1L431.4 1053.4L432.9 1053.6L434.4 1053.8L435.8 1053.9L437.3 1054.1L438.8 1054.2L440.3 1054.3L441.8 1054.4L443.3 1054.4L444.8 1054.4L446.3 1054.4L447.8 1054.4L449.3 1054.4L450.8 1054.4L452.3 1054.4L453.8 1054.4L455.3 1054.4L456.8 1054.4L458.4 1054.5L459.9 1054.5L461.4 1054.6L462.9 1054.6L464.3 1054.7L465.8 1054.7L467.3 1054.7L468.8 1054.7L470.3 1054.7L471.7 1054.6L473.2 1054.5L474.6 1054.3L476.1 1054.1L477.5 1053.8L478.9 1053.5L480.3 1053.2L481.7 1052.8L483.1 1052.4L484.5 1052.0L485.9 1051.5L487.3 1051.0L488.7 1050.5L490.1 1050.0L491.5 1049.4L492.9 1048.8L494.2 1048.2L495.6 1047.6L497.0 1046.9L498.3 1046.3L499.7 1045.6L501.0 1045.0L502.4 1044.3L503.8 1043.6L505.1 1042.9L506.5 1042.2L507.8 1041.5L509.2 1040.8L510.5 1040.1L511.9 1039.5L513.3 1038.8L514.6 1038.1L516.0 1037.5L517.3 1036.8L518.7 1036.1L520.0 1035.5L521.4 1034.8L522.7 1034.1L524.0 1033.4L525.4 1032.8L526.7 1032.1L528.0 1031.4L529.3 1030.6L530.6 1029.9L531.8 1029.1L533.1 1028.4L534.3 1027.6L535.5 1026.8L536.7 1025.9L537.9 1025.1L539.1 1024.2L540.3 1023.2L541.4 1022.3L542.5 1021.3L543.6 1020.4L544.7 1019.3L545.8 1018.3L546.9 1017.3L547.9 1016.2L549.0 1015.2L550.1 1014.1L551.1 1013.0L552.2 1012.0L553.2 1010.9L554.3 1009.8L555.3 1008.7L556.4 1007.6L557.4 1006.6L558.5 1005.5L559.6 1004.5L560.7 1003.4L561.8 1002.4L562.9 1001.4L564.0 1000.4L565.1 999.4L566.2 998.3L567.3 997.3L568.3 996.3L569.4 995.2L570.4 994.1L571.4 993.0L572.3 991.9L573.3 990.8L574.2 989.6L575.0 988.4L575.9 987.2L576.7 986.0L577.5 984.7L578.3 983.4L579.1 982.2L579.8 980.9L580.5 979.6L581.3 978.3L582.0 976.9L582.7 975.6L583.4 974.3L584.1 973.0L584.8 971.6L585.5 970.3L586.2 968.9L586.9 967.6L587.6 966.3L588.3 964.9L589.0 963.6L589.8 962.3L590.5 961.0L591.3 959.7L592.1 958.5L592.9 957.2L593.7 955.9L594.5 954.7L595.4 953.4L596.2 952.2L597.1 950.9L597.9 949.7L598.8 948.5L599.7 947.3L600.5 946.0L601.4 944.8L602.3 943.6L603.2 942.4L604.1 941.2L604.9 940.0L605.8 938.7L606.7 937.5L607.5 936.3L608.4 935.1L609.3 933.8L610.1 932.6L611.0 931.4L611.8 930.1L612.7 928.9L613.5 927.7L614.4 926.4L615.2 925.2L616.1 923.9L616.9 922.7L617.7 921.5L618.6 920.2L619.4 919.0L620.2 917.7L621.1 916.5L621.9 915.2L622.7 913.9L623.5 912.7L624.3 911.4L625.2 910.2L626.0 908.9L626.8 907.6L627.6 906.4L628.4 905.1L629.2 903.9L630.0 902.6L630.8 901.3L631.6 900.0L632.4 898.8L633.1 897.5L633.9 896.2L634.7 894.9L635.5 893.7L636.3 892.4L637.0 891.1L637.8 889.8L638.6 888.5L639.4 887.2L640.1 885.9L640.9 884.7L641.6 883.4L642.4 882.1L643.2 880.8L643.9 879.5L644.7 878.2L645.4 876.9L646.2 875.6L646.9 874.3L647.7 873.0L648.4 871.7L649.2 870.4L649.9 869.1L650.7 867.8L651.4 866.5L652.2 865.2L652.9 863.9L653.7 862.6L654.4 861.3L655.1 860.0L655.9 858.7L656.6 857.4L657.3 856.1L658.1 854.8L658.8 853.5L659.6 852.1L660.3 850.8L661.0 849.5L661.8 848.2L662.5 846.9L663.2 845.6L664.0 844.3L664.7 843.0L665.4 841.7L666.2 840.4L666.9 839.0L667.6 837.7L668.4 836.4L669.1 835.1L669.8 833.8L670.5 832.5L671.2 831.1L671.9 829.8L672.6 828.5L673.3 827.1L673.9 825.8L674.6 824.4L675.2 823.1L675.8 821.7L676.4 820.4L677.0 819.0L677.6 817.6L678.1 816.2L678.6 814.8L679.1 813.4L679.6 812.0L680.1 810.6L680.6 809.2L681.1 807.8L681.6 806.4L682.2 805.0L682.7 803.6L683.3 802.2L683.9 800.9L684.5 799.5L685.2 798.2L685.8 796.9L686.6 795.6L687.3 794.3L688.1 793.0L688.8 791.7L689.6 790.5L690.4 789.2L691.2 787.9L692.0 786.7L692.8 785.4L693.5 784.1L694.3 782.8L695.1 781.6L695.8 780.3L696.5 778.9L697.2 777.6L697.8 776.3L698.5 774.9L699.1 773.6L699.6 772.2L700.2 770.8L700.7 769.4L701.3 768.0L701.8 766.6L702.3 765.2L702.7 763.8L703.2 762.4L703.7 760.9L704.2 759.5L704.6 758.1L705.1 756.7L705.6 755.2L706.0 753.8L706.5 752.4L707.0 750.9L707.5 749.5L708.0 748.1L708.5 746.7L709.0 745.3L709.6 743.9L710.1 742.5L710.7 741.1L711.2 739.7L711.8 738.3L712.4 736.9L712.9 735.6L713.5 734.2L714.1 732.8L714.7 731.4L715.3 730.1L715.9 728.7L716.6 727.3L717.2 726.0L717.8 724.6L718.4 723.3L719.1 721.9L719.7 720.5L720.3 719.2L721.0 717.8L721.6 716.5L722.3 715.1L722.9 713.8L723.6 712.4L724.2 711.1L724.8 709.7L725.5 708.4L726.1 707.0L726.7 705.7L727.4 704.3L728.0 702.9L728.6 701.6L729.2 700.2L729.8 698.8L730.4 697.4L731.0 696.1L731.5 694.7L732.1 693.3L732.7 691.9L733.2 690.5L733.8 689.1L734.3 687.7L734.8 686.3L735.4 684.9L735.9 683.5L736.4 682.1L736.9 680.7L737.5 679.3L738.0 677.9L738.5 676.5L739.0 675.1L739.5 673.6L740.0 672.2L740.5 670.8L741.0 669.4L741.5 668.0L742.0 666.6L742.6 665.2L743.1 663.8L743.6 662.3L744.1 660.9L744.6 659.5L745.1 658.1L745.6 656.7L746.1 655.3L746.6 653.9L747.1 652.5L747.7 651.1L748.2 649.6L748.7 648.2L749.2 646.8L749.7 645.4L750.2 644.0L750.7 642.6L751.2 641.2L751.7 639.8L752.2 638.4L752.8 636.9L753.3 635.5L753.8 634.1L754.3 632.7L754.8 631.3L755.3 629.9L755.8 628.5L756.3 627.1L756.8 625.7L757.3 624.3L757.9 622.8L758.4 621.4L758.9 620.0L759.4 618.6L759.9 617.2L760.4 615.8L760.9 614.4L761.4 613.0L761.9 611.6L762.4 610.2L762.9 608.7L763.4 607.3L764.0 605.9L764.5 604.5L765.0 603.1L765.5 601.7L766.0 600.3L766.5 598.9L767.0 597.5L767.5 596.0L768.0 594.6L768.5 593.2L769.0 591.8L769.5 590.4L770.0 589.0L770.5 587.6L771.0 586.2L771.5 584.7L772.0 583.3L772.5 581.9L773.0 580.5L773.5 579.1L774.0 577.7L774.5 576.3L775.0 574.8L775.5 573.4L776.0 572.0L776.5 570.6L777.0 569.2L777.5 567.8L778.0 566.3L778.5 564.9L779.0 563.5L779.5 562.1L780.0 560.7" stroke="#DAE76E" /><path d="M190.5 629.7L190.7 631.2L190.9 632.7L191.1 634.3L191.3 635.8L191.6 637.2L191.8 638.7L192.1 640.2L192.4 641.7L192.7 643.2L193.0 644.7L193.3 646.1L193.7 647.6L194.0 649.1L194.4 650.5L194.7 652.0L195.1 653.4L195.5 654.9L195.9 656.3L196.3 657.7L196.7 659.2L197.2 660.6L197.6 662.0L198.1 663.4L198.5 664.9L199.0 666.3L199.5 667.7L200.0 669.1L200.5 670.5L201.0 671.9L201.5 673.3L202.0 674.7L202.5 676.2L203.0 677.6L203.6 678.9L204.1 680.3L204.6 681.7L205.2 683.1L205.7 684.5L206.3 685.9L206.9 687.3L207.4 688.7L208.0 690.1L208.6 691.5L209.2 692.8L209.7 694.2L210.3 695.6L210.9 697.0L211.5 698.4L212.1 699.7L212.7 701.1L213.3 702.5L213.8 703.9L214.4 705.2L215.0 706.6L215.6 708.0L216.2 709.4L216.8 710.8L217.4 712.1L218.0 713.5L218.6 714.9L219.2 716.3L219.8 717.7L220.3 719.0L220.9 720.4L221.5 721.8L222.1 723.2L222.7 724.6L223.2 726.0L223.8 727.4L224.4 728.7L224.9 730.1L225.5 731.5L226.1 732.9L226.6 734.3L227.2 735.7L227.7 737.1L228.3 738.5L228.8 739.9L229.4 741.3L229.9 742.7L230.5 744.1L231.0 745.5L231.6 746.9L232.1 748.3L232.7 749.6L233.2 751.0L233.8 752.4L234.3 753.8L234.9 755.2L235.4 756.6L236.0 758.0L236.5 759.4L237.1 760.8L237.6 762.2L238.2 763.6L238.7 765.0L239.3 766.4L239.8 767.8L240.4 769.2L240.9 770.6L241.5 771.9L242.0 773.3L242.6 774.7L243.2 776.1L243.7 777.5L244.3 778.9L244.9 780.3L245.4 781.7L246.0 783.0L246.6 784.4L247.2 785.8L247.8 787.2L248.3 788.6L248.9 789.9L249.5 791.3L250.1 792.7L250.7 794.0L251.3 795.4L251.9 796.8L252.5 798.2L253.2 799.5L253.8 800.9L254.4 802.2L255.0 803.6L255.7 805.0L256.3 806.3L256.9 807.7L257.6 809.0L258.2 810.4L258.9 811.7L259.5 813.1L260.2 814.4L260.9 815.7L261.6 817.1L262.2 818.4L262.9 819.7L263.6 821.1L264.3 822.4L265.0 823.7L265.7 825.1L266.4 826.4L267.1 827.7L267.8 829.1L268.5 830.4L269.1 831.7L269.8 833.1L270.5 834.4L271.2 835.7L271.9 837.1L272.6 838.4L273.3 839.7L273.9 841.1L274.6 842.4L275.3 843.8L275.9 845.1L276.6 846.5L277.2 847.8L277.9 849.2L278.5 850.5L279.1 851.9L279.7 853.2L280.3 854.6L280.9 856.0L281.5 857.4L282.1 858.8L282.7 860.1L283.2 861.5L283.7 862.9L284.3 864.3L284.8 865.7L285.3 867.2L285.8 868.6L286.3 870.0L286.7 871.4L287.2 872.9L287.7 874.3L288.1 875.7L288.6 877.2L289.0 878.6L289.5 880.0L290.0 881.5L290.4 882.9L290.9 884.3L291.4 885.7L292.0 887.1L292.5 888.5L293.1 889.9L293.7 891.2L294.3 892.6L294.9 894.0L295.5 895.3L296.2 896.6L296.9 898.0L297.6 899.3L298.3 900.6L299.0 901.9L299.7 903.2L300.4 904.5L301.2 905.8L301.9 907.1L302.6 908.4L303.4 909.7L304.2 910.9L304.9 912.2L305.7 913.5L306.5 914.7L307.2 916.0L308.0 917.3L308.8 918.6L309.5 919.8L310.3 921.1L311.1 922.4L311.8 923.7L312.6 924.9L313.3 926.2L314.1 927.5L314.8 928.8L315.5 930.1L316.3 931.4L317.0 932.7L317.7 934.1L318.4 935.4L319.2 936.7L319.9 938.0L320.6 939.3L321.3 940.7L322.0 942.0L322.7 943.3L323.4 944.6L324.2 946.0L324.9 947.3L325.6 948.6L326.3 949.9L327.0 951.2L327.7 952.6L328.5 953.9L329.2 955.2L329.9 956.5L330.7 957.8L331.4 959.1L332.1 960.4L332.9 961.7L333.6 963.0L334.4 964.3L335.1 965.6L335.9 966.9L336.7 968.2L337.5 969.5L338.2 970.7L339.0 972.0L339.8 973.3L340.6 974.6L341.4 975.8L342.2 977.1L343.0 978.3L343.8 979.6L344.6 980.8L345.5 982.1L346.3 983.3L347.1 984.5L348.0 985.8L348.8 987.0L349.7 988.2L350.5 989.5L351.4 990.7L352.2 991.9L353.1 993.1L354.0 994.3L354.9 995.5L355.7 996.7L356.6 997.9L357.5 999.1L358.4 1000.3L359.3 1001.5L360.3 1002.7L361.2 1003.9L362.1 1005.1L363.0 1006.2L364.0 1007.4L364.9 1008.6L365.9 1009.8L366.8 1010.9L367.8 1012.1L368.7 1013.2L369.7 1014.3L370.7 1015.5L371.7 1016.6L372.7 1017.7L373.7 1018.8L374.7 1019.9L375.7 1021.0L376.7 1022.1L377.8 1023.2L378.8 1024.2L379.9 1025.3L381.0 1026.3L382.0 1027.3L383.1 1028.3L384.2 1029.3L385.3 1030.3L386.5 1031.3L387.6 1032.3L388.7 1033.2L389.9 1034.1L391.0 1035.0L392.2 1035.9L393.4 1036.8L394.6 1037.7L395.8 1038.5L397.0 1039.4L398.3 1040.2L399.5 1041.0L400.8 1041.7L402.1 1042.5L403.4 1043.2L404.7 1043.9L406.0 1044.6L407.3 1045.3L408.7 1045.9L410.0 1046.6L411.4 1047.2L412.8 1047.7L414.2 1048.3L415.6 1048.8L417.1 1049.3L418.5 1049.8L420.0 1050.3L421.4 1050.7L422.9 1051.1L424.4 1051.5L425.9 1051.8L427.4 1052.1L428.9 1052.4L430.4 1052.6L431.9 1052.8L433.4 1053.0L434.9 1053.2L436.4 1053.3L437.9 1053.3L439.4 1053.4L440.9 1053.4L442.4 1053.3L443.8 1053.3L445.3 1053.2L446.8 1053.0L448.2 1052.9L449.7 1052.8L451.1 1052.7L452.6 1052.7L454.0 1052.7L455.5 1052.7L457.0 1052.8L458.5 1053.0L459.9 1053.2L461.4 1053.4L462.9 1053.7L464.4 1053.9L465.9 1054.1L467.4 1054.3L468.9 1054.4L470.3 1054.5L471.8 1054.5L473.2 1054.4L474.7 1054.2L476.1 1053.9L477.5 1053.6L479.0 1053.2L480.4 1052.7L481.8 1052.3L483.3 1051.9L484.7 1051.4L486.2 1051.0L487.7 1050.7L489.1 1050.4L490.6 1050.1L492.1 1049.9L493.7 1049.6L495.2 1049.4L496.7 1049.3L498.2 1049.1L499.7 1048.9L501.2 1048.7L502.7 1048.5L504.2 1048.3L505.6 1048.0L507.1 1047.7L508.5 1047.4L509.9 1047.0L511.3 1046.6L512.7 1046.2L514.1 1045.8L515.5 1045.3L516.8 1044.7L518.2 1044.2L519.5 1043.6L520.8 1043.0L522.1 1042.3L523.4 1041.6L524.7 1040.9L526.0 1040.1L527.3 1039.4L528.6 1038.6L529.8 1037.7L531.1 1036.9L532.3 1036.0L533.5 1035.2L534.8 1034.3L536.0 1033.4L537.2 1032.5L538.4 1031.6L539.6 1030.6L540.8 1029.7L542.0 1028.8L543.2 1027.8L544.4 1026.9L545.6 1025.9L546.8 1025.0L548.0 1024.1L549.2 1023.1L550.4 1022.2L551.5 1021.3L552.7 1020.4L553.9 1019.4L555.0 1018.5L556.2 1017.6L557.4 1016.7L558.5 1015.7L559.7 1014.8L560.8 1013.9L562.0 1012.9L563.1 1012.0L564.3 1011.0L565.4 1010.1L566.5 1009.1L567.7 1008.2L568.8 1007.2L569.9 1006.2L571.0 1005.3L572.2 1004.3L573.3 1003.3L574.4 1002.3L575.5 1001.2L576.6 1000.2L577.7 999.2L578.8 998.1L579.9 997.1L580.9 996.0L581.9 994.9L583.0 993.8L583.9 992.6L584.9 991.5L585.9 990.3L586.8 989.1L587.6 987.9L588.5 986.7L589.3 985.5L590.2 984.2L591.0 983.0L591.8 981.7L592.5 980.5L593.3 979.2L594.1 978.0L594.9 976.7L595.7 975.4L596.5 974.2L597.3 972.9L598.2 971.7L599.0 970.5L599.9 969.2L600.7 968.0L601.6 966.8L602.4 965.6L603.3 964.4L604.2 963.1L605.0 961.9L605.9 960.7L606.8 959.5L607.7 958.3L608.6 957.1L609.5 955.9L610.4 954.7L611.3 953.5L612.2 952.3L613.1 951.1L613.9 949.9L614.8 948.7L615.7 947.5L616.6 946.3L617.5 945.0L618.4 943.8L619.3 942.6L620.2 941.4L621.1 940.2L621.9 939.0L622.8 937.8L623.7 936.5L624.5 935.3L625.4 934.1L626.3 932.8L627.1 931.6L628.0 930.4L628.8 929.1L629.6 927.9L630.5 926.6L631.3 925.4L632.1 924.2L633.0 922.9L633.8 921.6L634.6 920.4L635.4 919.1L636.2 917.9L637.1 916.6L637.9 915.3L638.7 914.1L639.5 912.8L640.3 911.5L641.1 910.3L641.8 909.0L642.6 907.7L643.4 906.4L644.2 905.2L645.0 903.9L645.7 902.6L646.5 901.3L647.3 900.0L648.1 898.7L648.8 897.4L649.6 896.1L650.3 894.9L651.1 893.6L651.8 892.3L652.6 891.0L653.3 889.7L654.1 888.4L654.8 887.0L655.5 885.7L656.3 884.4L657.0 883.1L657.7 881.8L658.5 880.5L659.2 879.2L659.9 877.9L660.6 876.6L661.3 875.2L662.1 873.9L662.8 872.6L663.5 871.3L664.2 870.0L664.9 868.6L665.6 867.3L666.3 866.0L667.0 864.6L667.7 863.3L668.4 862.0L669.0 860.7L669.7 859.3L670.4 858.0L671.1 856.7L671.8 855.3L672.5 854.0L673.1 852.7L673.8 851.3L674.5 850.0L675.1 848.6L675.8 847.3L676.5 846.0L677.1 844.6L677.8 843.3L678.5 841.9L679.1 840.6L679.8 839.2L680.4 837.9L681.1 836.6L681.7 835.2L682.4 833.9L683.0 832.5L683.7 831.2L684.3 829.8L685.0 828.5L685.6 827.1L686.3 825.8L686.9 824.4L687.6 823.1L688.2 821.7L688.9 820.4L689.5 819.0L690.1 817.7L690.8 816.3L691.4 815.0L692.1 813.6L692.7 812.3L693.3 810.9L694.0 809.5L694.6 808.2L695.3 806.8L695.9 805.5L696.5 804.1L697.2 802.8L697.8 801.4L698.5 800.1L699.1 798.7L699.7 797.4L700.4 796.0L701.0 794.7L701.7 793.3L702.3 791.9L702.9 790.6L703.6 789.2L704.2 787.9L704.9 786.5L705.5 785.2L706.2 783.8L706.8 782.5L707.5 781.1L708.1 779.8L708.8 778.4L709.4 777.1L710.1 775.7L710.7 774.4L711.4 773.0L712.0 771.7L712.7 770.3L713.3 769.0L714.0 767.6L714.6 766.3L715.3 764.9L715.9 763.6L716.6 762.2L717.2 760.9L717.9 759.5L718.5 758.2L719.1 756.8L719.8 755.4L720.4 754.1L721.1 752.7L721.7 751.4L722.3 750.0L723.0 748.7L723.6 747.3L724.2 745.9L724.9 744.6L725.5 743.2L726.1 741.9L726.7 740.5L727.3 739.1L727.9 737.7L728.5 736.4L729.1 735.0L729.7 733.6L730.3 732.3L730.9 730.9L731.5 729.5L732.1 728.1L732.7 726.7L733.2 725.4L733.8 724.0L734.4 722.6L734.9 721.2L735.5 719.8L736.1 718.4L736.6 717.0L737.2 715.6L737.7 714.3L738.3 712.9L738.8 711.5L739.3 710.1L739.9 708.7L740.4 707.3L740.9 705.9L741.5 704.5L742.0 703.1L742.5 701.7L743.0 700.3L743.5 698.8L744.1 697.4L744.6 696.0L745.1 694.6L745.6 693.2L746.1 691.8L746.6 690.4L747.1 689.0L747.6 687.6L748.1 686.2L748.7 684.8L749.2 683.3L749.7 681.9L750.2 680.5L750.7 679.1L751.2 677.7L751.7 676.3L752.2 674.9L752.7 673.5L753.2 672.1L753.7 670.6L754.2 669.2L754.7 667.8L755.2 666.4L755.7 665.0L756.2 663.6L756.7 662.2L757.2 660.8L757.7 659.3L758.2 657.9L758.7 656.5L759.2 655.1L759.7 653.7L760.2 652.3L760.8 650.9L761.3 649.5L761.8 648.1L762.3 646.6L762.8 645.2L763.3 643.8L763.8 642.4L764.3 641.0L764.8 639.6L765.3 638.2L765.8 636.8L766.3 635.4L766.9 634.0L767.4 632.5L767.9 631.1L768.4 629.7L768.9 628.3L769.4 626.9L769.9 625.5L770.4 624.1L770.9 622.7L771.5 621.3L772.0 619.9L772.5 618.4L773.0 617.0L773.5 615.6L774.0 614.2L774.5 612.8L775.0 611.4L775.6 610.0L776.1 608.6L776.6 607.2L777.1 605.8L777.6 604.4L778.1 603.0L778.6 601.5L779.2 600.1L779.7 598.7L780.2 597.3L780.7 595.9L781.2 594.5L781.7 593.1L782.2 591.7L782.8 590.3L783.3 588.9L783.8 587.5L784.3 586.1L784.8 584.7L785.3 583.2L785.9 581.8L786.4 580.4L786.9 579.0L787.4 577.6L787.9 576.2L788.4 574.8L789.0 573.4L789.5 572.0L790.0 570.6L790.5 569.2L791.0 567.8L791.6 566.4L792.1 565.0L792.6 563.5L793.1 562.1L793.6 560.7" stroke="#8FBA4B" /><path d="M291.6 568.2L291.8 569.7L292.1 571.2L292.3 572.7L292.6 574.2L292.9 575.6L293.2 577.1L293.5 578.6L293.8 580.1L294.1 581.5L294.4 583.0L294.8 584.5L295.1 585.9L295.4 587.4L295.8 588.8L296.2 590.3L296.5 591.7L296.9 593.2L297.3 594.6L297.7 596.1L298.0 597.5L298.4 599.0L298.8 600.4L299.3 601.9L299.7 603.3L300.1 604.7L300.5 606.2L300.9 607.6L301.4 609.0L301.8 610.5L302.3 611.9L302.7 613.3L303.2 614.7L303.6 616.2L304.1 617.6L304.5 619.0L305.0 620.4L305.5 621.9L305.9 623.3L306.4 624.7L306.9 626.1L307.4 627.5L307.9 629.0L308.4 630.4L308.8 631.8L309.3 633.2L309.8 634.6L310.3 636.0L310.8 637.5L311.3 638.9L311.8 640.3L312.3 641.7L312.8 643.1L313.3 644.5L313.8 645.9L314.3 647.4L314.8 648.8L315.3 650.2L315.8 651.6L316.3 653.0L316.8 654.4L317.3 655.8L317.9 657.2L318.4 658.7L318.9 660.1L319.3 661.5L319.8 662.9L320.3 664.3L320.8 665.7L321.3 667.2L321.8 668.6L322.3 670.0L322.8 671.4L323.3 672.8L323.8 674.3L324.2 675.7L324.7 677.1L325.2 678.5L325.7 680.0L326.1 681.4L326.6 682.8L327.1 684.2L327.5 685.7L328.0 687.1L328.5 688.5L328.9 689.9L329.4 691.4L329.9 692.8L330.3 694.2L330.8 695.7L331.2 697.1L331.7 698.5L332.1 699.9L332.6 701.4L333.1 702.8L333.5 704.2L334.0 705.7L334.4 707.1L334.9 708.5L335.3 710.0L335.8 711.4L336.2 712.8L336.7 714.2L337.1 715.7L337.6 717.1L338.0 718.5L338.5 720.0L339.0 721.4L339.4 722.8L339.9 724.3L340.3 725.7L340.8 727.1L341.2 728.5L341.7 730.0L342.2 731.4L342.6 732.8L343.1 734.2L343.6 735.7L344.0 737.1L344.5 738.5L345.0 739.9L345.4 741.4L345.9 742.8L346.4 744.2L346.9 745.6L347.3 747.1L347.8 748.5L348.3 749.9L348.8 751.3L349.3 752.7L349.8 754.1L350.3 755.6L350.7 757.0L351.2 758.4L351.7 759.8L352.3 761.2L352.8 762.6L353.3 764.0L353.8 765.4L354.3 766.9L354.8 768.3L355.3 769.7L355.9 771.1L356.4 772.5L356.9 773.9L357.5 775.3L358.0 776.7L358.5 778.1L359.1 779.5L359.6 780.8L360.2 782.2L360.7 783.6L361.3 785.0L361.9 786.4L362.4 787.8L363.0 789.2L363.6 790.6L364.1 792.0L364.7 793.3L365.3 794.7L365.9 796.1L366.5 797.5L367.0 798.9L367.6 800.2L368.2 801.6L368.8 803.0L369.4 804.4L370.0 805.8L370.6 807.1L371.2 808.5L371.8 809.9L372.4 811.2L373.0 812.6L373.7 814.0L374.3 815.4L374.9 816.7L375.5 818.1L376.1 819.5L376.7 820.8L377.4 822.2L378.0 823.5L378.6 824.9L379.2 826.3L379.9 827.6L380.5 829.0L381.1 830.4L381.8 831.7L382.4 833.1L383.0 834.4L383.7 835.8L384.3 837.2L384.9 838.5L385.6 839.9L386.2 841.2L386.9 842.6L387.5 843.9L388.2 845.3L388.8 846.6L389.4 848.0L390.1 849.4L390.7 850.7L391.4 852.1L392.0 853.4L392.7 854.8L393.3 856.1L394.0 857.5L394.6 858.8L395.3 860.1L396.0 861.5L396.6 862.8L397.3 864.2L398.0 865.5L398.6 866.8L399.3 868.2L400.0 869.5L400.7 870.8L401.4 872.2L402.1 873.5L402.8 874.8L403.5 876.1L404.2 877.4L404.9 878.7L405.7 880.0L406.4 881.3L407.1 882.6L407.9 883.9L408.6 885.2L409.4 886.5L410.2 887.8L411.0 889.0L411.7 890.3L412.5 891.6L413.3 892.8L414.2 894.1L415.0 895.3L415.8 896.6L416.7 897.8L417.5 899.0L418.4 900.3L419.2 901.5L420.1 902.7L421.0 903.9L421.9 905.1L422.8 906.3L423.7 907.5L424.5 908.7L425.4 909.9L426.3 911.2L427.2 912.4L428.0 913.6L428.9 914.8L429.7 916.0L430.6 917.3L431.4 918.5L432.2 919.7L433.0 921.0L433.8 922.2L434.5 923.5L435.3 924.8L436.1 926.0L436.8 927.3L437.6 928.6L438.3 929.8L439.1 931.1L439.9 932.3L440.7 933.6L441.5 934.8L442.4 936.0L443.2 937.2L444.1 938.4L445.0 939.5L446.0 940.7L447.0 941.8L448.0 942.9L449.0 944.0L450.0 945.1L451.1 946.1L452.2 947.1L453.3 948.1L454.4 949.2L455.5 950.2L456.6 951.2L457.7 952.2L458.7 953.2L459.8 954.2L460.9 955.3L461.9 956.3L462.9 957.4L463.9 958.5L464.9 959.7L465.8 960.9L466.7 962.0L467.6 963.3L468.5 964.5L469.3 965.7L470.1 967.0L471.0 968.3L471.8 969.5L472.6 970.8L473.4 972.1L474.2 973.4L475.0 974.6L475.8 975.9L476.6 977.2L477.5 978.4L478.3 979.6L479.2 980.8L480.1 982.0L481.0 983.2L482.0 984.3L482.9 985.4L484.0 986.5L485.0 987.5L486.1 988.5L487.2 989.5L488.3 990.5L489.5 991.4L490.6 992.3L491.8 993.3L492.9 994.2L494.1 995.1L495.2 996.1L496.2 997.1L497.3 998.1L498.3 999.2L499.2 1000.3L500.2 1001.5L501.1 1002.6L502.0 1003.8L502.9 1004.9L503.9 1006.1L504.8 1007.2L505.8 1008.3L506.8 1009.4L507.9 1010.5L508.9 1011.5L510.0 1012.6L511.2 1013.6L512.3 1014.6L513.4 1015.6L514.6 1016.5L515.7 1017.5L516.9 1018.5L518.0 1019.4L519.2 1020.4L520.3 1021.4L521.5 1022.3L522.6 1023.3L523.8 1024.2L524.9 1025.2L526.0 1026.1L527.2 1027.0L528.4 1028.0L529.5 1028.9L530.7 1029.7L531.9 1030.6L533.1 1031.4L534.3 1032.2L535.6 1033.0L536.8 1033.8L538.1 1034.5L539.4 1035.2L540.8 1035.9L542.1 1036.6L543.5 1037.2L544.8 1037.9L546.2 1038.5L547.6 1039.2L548.9 1039.9L550.3 1040.6L551.6 1041.3L552.9 1042.1L554.2 1042.9L555.5 1043.8L556.7 1044.8L557.9 1045.8L559.0 1046.9L560.1 1047.9L561.3 1048.9L562.4 1049.9L563.6 1050.7L564.7 1051.4L566.0 1051.8L567.3 1052.1L568.6 1052.2L570.0 1052.1L571.4 1052.0L572.9 1052.0L574.3 1052.1L575.8 1052.3L577.2 1052.7L578.7 1053.1L580.1 1053.5L581.6 1053.9L583.0 1054.3L584.5 1054.7L585.9 1054.9L587.4 1055.0L588.8 1055.0L590.3 1055.0L591.7 1054.8L593.2 1054.5L594.6 1054.2L596.0 1053.8L597.4 1053.4L598.9 1052.8L600.3 1052.3L601.7 1051.7L603.1 1051.1L604.5 1050.4L605.9 1049.8L607.3 1049.1L608.7 1048.4L610.1 1047.8L611.5 1047.2L612.9 1046.5L614.3 1045.9L615.7 1045.3L617.1 1044.8L618.4 1044.2L619.8 1043.6L621.2 1043.1L622.6 1042.5L624.0 1042.0L625.3 1041.4L626.7 1040.9L628.1 1040.4L629.5 1039.8L630.8 1039.3L632.2 1038.7L633.6 1038.2L635.0 1037.6L636.3 1037.1L637.7 1036.5L639.1 1035.9L640.5 1035.3L641.9 1034.7L643.3 1034.1L644.7 1033.4L646.1 1032.7L647.4 1032.0L648.7 1031.3L650.1 1030.5L651.3 1029.7L652.6 1028.8L653.8 1027.9L654.9 1027.0L656.1 1026.0L657.1 1024.9L658.1 1023.8L659.1 1022.6L660.0 1021.5L661.0 1020.3L661.9 1019.1L662.8 1018.0L663.8 1016.8L664.8 1015.8L665.9 1014.8L667.1 1013.9L668.3 1013.1L669.6 1012.3L670.9 1011.6L672.2 1010.9L673.5 1010.2L674.9 1009.6L676.3 1008.9L677.6 1008.2L678.9 1007.4L680.2 1006.7L681.4 1005.8L682.7 1005.0L683.8 1004.0L685.0 1003.0L686.1 1002.0L687.1 1001.0L688.2 999.9L689.2 998.8L690.2 997.7L691.2 996.5L692.2 995.3L693.2 994.2L694.2 993.0L695.1 991.9L696.1 990.7L697.1 989.5L698.0 988.4L699.0 987.2L700.0 986.0L700.9 984.9L701.9 983.7L702.8 982.6L703.8 981.4L704.7 980.2L705.7 979.1L706.6 977.9L707.5 976.8L708.5 975.6L709.4 974.4L710.3 973.3L711.2 972.1L712.2 970.9L713.1 969.8L714.0 968.6L714.9 967.4L715.8 966.2L716.7 965.0L717.6 963.9L718.5 962.7L719.4 961.5L720.3 960.3L721.2 959.1L722.0 957.9L722.9 956.7L723.8 955.5L724.7 954.3L725.5 953.0L726.4 951.8L727.2 950.6L728.1 949.4L729.0 948.1L729.8 946.9L730.7 945.7L731.5 944.4L732.3 943.2L733.2 942.0L734.0 940.7L734.8 939.5L735.7 938.2L736.5 937.0L737.3 935.7L738.1 934.4L739.0 933.2L739.8 931.9L740.6 930.7L741.4 929.4L742.2 928.1L743.0 926.9L743.8 925.6L744.6 924.3L745.4 923.0L746.2 921.8L747.0 920.5L747.8 919.2L748.6 917.9L749.4 916.7L750.2 915.4L751.0 914.1L751.8 912.8L752.6 911.5L753.3 910.3L754.1 909.0L754.9 907.7L755.7 906.4L756.5 905.1L757.2 903.8L758.0 902.6L758.8 901.3L759.6 900.0L760.3 898.7L761.1 897.4L761.9 896.1L762.6 894.9L763.4 893.6L764.2 892.3L764.9 891.0L765.7 889.7L766.5 888.5L767.2 887.2L768.0 885.9L768.8 884.6L769.5 883.3L770.3 882.0L771.0 880.8L771.8 879.5L772.5 878.2L773.2 876.9L774.0 875.6L774.7 874.3L775.4 873.0L776.2 871.7L776.9 870.4L777.6 869.1L778.3 867.8L779.0 866.5L779.7 865.1L780.4 863.8L781.1 862.5L781.7 861.2L782.4 859.8L783.1 858.5L783.7 857.2L784.4 855.8L785.0 854.5L785.7 853.1L786.3 851.8L787.0 850.4L787.6 849.0L788.2 847.7L788.8 846.3L789.4 844.9L790.1 843.6L790.7 842.2L791.3 840.8L791.9 839.5L792.5 838.1L793.1 836.7L793.7 835.3L794.3 833.9L794.9 832.6L795.5 831.2L796.0 829.8L796.6 828.4L797.2 827.0L797.8 825.6L798.4 824.3L799.0 822.9L799.6 821.5L800.2 820.1L800.7 818.7L801.3 817.3L801.9 815.9L802.5 814.6L803.1 813.2L803.7 811.8L804.3 810.4L804.9 809.0L805.5 807.7L806.1 806.3L806.7 804.9L807.2 803.5L807.8 802.1L808.4 800.8L809.0 799.4L809.6 798.0L810.2 796.6L810.8 795.3L811.4 793.9L812.0 792.5L812.6 791.1L813.2 789.7L813.8 788.4L814.4 787.0L815.0 785.6L815.6 784.2L816.2 782.9L816.8 781.5L817.4 780.1L818.0 778.7L818.6 777.4L819.1 776.0L819.7 774.6L820.3 773.2L820.9 771.9L821.5 770.5L822.1 769.1L822.7 767.7L823.3 766.4L823.9 765.0L824.5 763.6L825.1 762.2L825.6 760.9L826.2 759.5L826.8 758.1L827.4 756.7L828.0 755.3L828.6 754.0L829.1 752.6L829.7 751.2L830.3 749.8L830.9 748.4L831.5 747.1L832.0 745.7L832.6 744.3L833.2 742.9L833.8 741.5L834.3 740.1L834.9 738.7L835.5 737.4L836.0 736.0L836.6 734.6L837.1 733.2L837.7 731.8L838.3 730.4L838.8 729.0L839.4 727.6L839.9 726.2L840.5 724.9L841.0 723.5L841.6 722.1L842.1 720.7L842.7 719.3L843.2 717.9L843.8 716.5L844.3 715.1L844.9 713.7L845.4 712.3L846.0 710.9L846.5 709.5L847.0 708.1L847.6 706.7L848.1 705.3L848.6 703.9L849.2 702.5L849.7 701.1L850.2 699.7L850.8 698.3L851.3 696.9L851.8 695.5L852.3 694.1L852.9 692.7L853.4 691.3L853.9 689.9L854.4 688.4L855.0 687.0L855.5 685.6L856.0 684.2L856.5 682.8L857.0 681.4L857.5 680.0L858.1 678.6L858.6 677.2L859.1 675.8L859.6 674.4L860.1 672.9L860.6 671.5L861.1 670.1L861.6 668.7L862.1 667.3L862.6 665.9L863.1 664.5L863.6 663.0L864.1 661.6L864.6 660.2L865.1 658.8L865.6 657.4L866.1 656.0L866.6 654.6L867.1 653.1L867.6 651.7L868.1 650.3L868.6 648.9L869.1 647.5L869.6 646.0L870.1 644.6L870.5 643.2L871.0 641.8L871.5 640.4L872.0 638.9L872.5 637.5L873.0 636.1L873.4 634.7L873.9 633.3L874.4 631.8L874.9 630.4L875.4 629.0L875.8 627.6L876.3 626.2L876.8 624.7L877.3 623.3L877.8 621.9L878.2 620.5L878.7 619.0L879.2 617.6L879.6 616.2L880.1 614.8L880.6 613.3L881.1 611.9L881.5 610.5L882.0 609.1L882.5 607.6L882.9 606.2L883.4 604.8L883.9 603.4L884.3 601.9L884.8 600.5L885.3 599.1L885.7 597.7L886.2 596.2L886.7 594.8L887.1 593.4L887.6 592.0L888.0 590.5L888.5 589.1L889.0 587.7L889.4 586.3L889.9 584.8L890.3 583.4L890.8 582.0L891.3 580.6L891.7 579.1L892.2 577.7L892.6 576.3L893.1 574.8L893.5 573.4L894.0 572.0L894.4 570.6L894.9 569.1L895.3 567.7L895.8 566.3L896.2 564.9L896.7 563.4L897.1 562.0L897.6 560.6" stroke="#035E03" /></g><text font-size="54" text-anchor="end" transform="translate(187.6,202.3) scale(1,1.035)">0.02</text><text font-size="54" text-anchor="end" transform="translate(187.6,517.2) scale(1,1.035)">0.00</text><text font-size="54" text-anchor="end" transform="translate(185.6,757.3) scale(1,1.035)">0.02</text><text font-size="54" text-anchor="end" transform="translate(185.6,1070.9) scale(1,1.035)">0.00</text><text font-size="54" text-anchor="middle" transform="translate(355.5,1187.3) scale(1,1.035)">0.0</text><text font-size="54" text-anchor="middle" transform="translate(520.3,1187.3) scale(1,1.035)">0.2</text><text font-size="54" text-anchor="middle" transform="translate(685.0,1187.3) scale(1,1.035)">0.4</text><text font-size="54" text-anchor="middle" transform="translate(850.2,1187.3) scale(1,1.035)">0.6</text><text font-size="54" text-anchor="middle" transform="translate(1014.8,1187.3) scale(1,1.035)">0.8</text><text font-size="56.3" text-anchor="start" transform="translate(367.8,1243.8)">Angle shift (degrees)</text><text font-size="56.15" text-anchor="middle" transform="translate(60.2,588.85) rotate(-90) scale(1,1.02)">SPR Reflection Intensity (R.U.)</text><text font-size="54" text-anchor="start" transform="translate(202,75.7)">(a)</text><text font-size="54" text-anchor="start" transform="translate(206,640)">(b)</text><text font-size="54" text-anchor="end" transform="translate(1042.9,545.6)">Standard synthesis</text><text font-size="54" text-anchor="end" transform="translate(1030.4,1085.3)">Fast synthesis</text><text font-size="54" text-anchor="start" transform="translate(1210.2,480.9) scale(1,1.015)">Boc-Gly</text><text font-size="54" text-anchor="start" transform="translate(1210.2,547) scale(1,1.015)">Boc-Ala</text><text font-size="54" text-anchor="start" transform="translate(1210.2,614) scale(1,1.015)">Boc-Ile</text><text font-size="54" text-anchor="start" transform="translate(1210.2,680) scale(1,1.015)">Boc-Pro</text><text font-size="54" text-anchor="start" transform="translate(1210.2,747) scale(1,1.015)">Boc-Phe</text><line x1="1089" y1="461.6" x2="1209.5" y2="461.6" stroke="#FDD75A" stroke-width="6.4" stroke-linecap="round"/><line x1="1089" y1="528.1" x2="1209.5" y2="528.1" stroke="#E0F8BE" stroke-width="6.4" stroke-linecap="round"/><line x1="1089" y1="594.5" x2="1209.5" y2="594.5" stroke="#DAE76E" stroke-width="6.4" stroke-linecap="round"/><line x1="1089" y1="661.0" x2="1209.5" y2="661.0" stroke="#8FBA4B" stroke-width="6.4" stroke-linecap="round"/><line x1="1089" y1="727.4" x2="1209.5" y2="727.4" stroke="#035E03" stroke-width="6.4" stroke-linecap="round"/>
</svg></body></html>
